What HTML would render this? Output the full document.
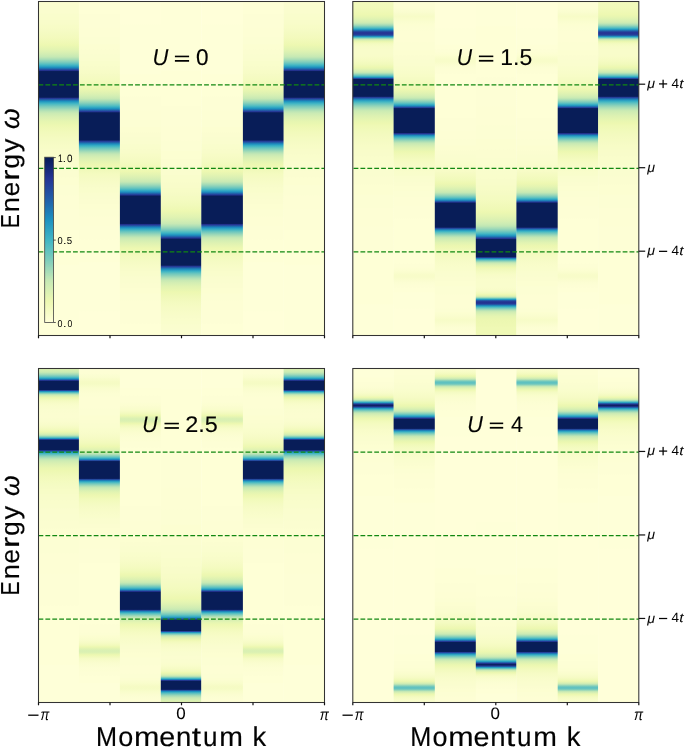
<!DOCTYPE html>
<html><head><meta charset="utf-8"><style>
html,body{margin:0;padding:0;background:#fff;}
body{width:685px;height:747px;overflow:hidden;}
svg{display:block;}
.dl{stroke:#118811;stroke-width:1.3;stroke-dasharray:4.8 2.1;fill:none;}
.sp{fill:none;stroke:#333;stroke-width:1.05;}
.tk{stroke:#111;stroke-width:1.2;}
text{font-family:"Liberation Sans",sans-serif;text-rendering:geometricPrecision;fill:#000;stroke:#000;stroke-width:0.3px;vector-effect:non-scaling-stroke;}
.tx{opacity:0.995;}
</style></head><body>
<svg width="685" height="747" viewBox="0 0 685 747">
<defs>
<linearGradient id="TL0" x1="0" y1="0" x2="0" y2="1"><stop offset="0.0004" stop-color="#fbfdd0"/><stop offset="0.0094" stop-color="#fbfdd0"/><stop offset="0.0124" stop-color="#fafdcf"/><stop offset="0.0228" stop-color="#fafdcf"/><stop offset="0.0258" stop-color="#fafdce"/><stop offset="0.0348" stop-color="#fafdce"/><stop offset="0.0378" stop-color="#f9fdcc"/><stop offset="0.0445" stop-color="#f9fdcc"/><stop offset="0.0475" stop-color="#f9fdcb"/><stop offset="0.0535" stop-color="#f9fdcb"/><stop offset="0.0565" stop-color="#f8fcca"/><stop offset="0.0610" stop-color="#f8fcca"/><stop offset="0.0640" stop-color="#f8fcc9"/><stop offset="0.0677" stop-color="#f8fcc9"/><stop offset="0.0707" stop-color="#f7fcc7"/><stop offset="0.0737" stop-color="#f7fcc7"/><stop offset="0.0767" stop-color="#f7fcc6"/><stop offset="0.0842" stop-color="#f6fbc5"/><stop offset="0.0872" stop-color="#f5fbc4"/><stop offset="0.1074" stop-color="#f3fabd"/><stop offset="0.1201" stop-color="#f0f9b7"/><stop offset="0.1306" stop-color="#edf8b1"/><stop offset="0.1441" stop-color="#e2f4b2"/><stop offset="0.1508" stop-color="#dbf1b2"/><stop offset="0.1583" stop-color="#d1edb3"/><stop offset="0.1650" stop-color="#c6e9b4"/><stop offset="0.1680" stop-color="#bde5b5"/><stop offset="0.1688" stop-color="#b9e4b5"/><stop offset="0.1703" stop-color="#b4e2b6"/><stop offset="0.1710" stop-color="#b0e0b6"/><stop offset="0.1725" stop-color="#abdeb7"/><stop offset="0.1733" stop-color="#a7dcb7"/><stop offset="0.1740" stop-color="#a5dcb7"/><stop offset="0.1755" stop-color="#9cd8b8"/><stop offset="0.1763" stop-color="#99d7b8"/><stop offset="0.1778" stop-color="#90d4b9"/><stop offset="0.1785" stop-color="#8ed3ba"/><stop offset="0.1830" stop-color="#75c9bd"/><stop offset="0.1845" stop-color="#6bc6be"/><stop offset="0.1875" stop-color="#57bec1"/><stop offset="0.1905" stop-color="#42b6c4"/><stop offset="0.1935" stop-color="#33a7c2"/><stop offset="0.1972" stop-color="#1d91c0"/><stop offset="0.2002" stop-color="#2075b3"/><stop offset="0.2055" stop-color="#243d98"/><stop offset="0.2062" stop-color="#253494"/><stop offset="0.2070" stop-color="#203089"/><stop offset="0.2085" stop-color="#12256d"/><stop offset="0.2092" stop-color="#0b1f5e"/><stop offset="0.2100" stop-color="#081d58"/><stop offset="0.2863" stop-color="#081d58"/><stop offset="0.2871" stop-color="#0d2161"/><stop offset="0.2885" stop-color="#1a2b7e"/><stop offset="0.2893" stop-color="#21308b"/><stop offset="0.2900" stop-color="#253795"/><stop offset="0.2930" stop-color="#2258a5"/><stop offset="0.2953" stop-color="#206eb0"/><stop offset="0.2968" stop-color="#1f7eb7"/><stop offset="0.2983" stop-color="#1d8dbe"/><stop offset="0.2990" stop-color="#1f93c0"/><stop offset="0.3043" stop-color="#3bb0c3"/><stop offset="0.3058" stop-color="#42b6c4"/><stop offset="0.3088" stop-color="#57bec1"/><stop offset="0.3118" stop-color="#69c5be"/><stop offset="0.3132" stop-color="#73c8bd"/><stop offset="0.3170" stop-color="#87d0ba"/><stop offset="0.3177" stop-color="#89d1ba"/><stop offset="0.3192" stop-color="#92d5b9"/><stop offset="0.3200" stop-color="#95d5b9"/><stop offset="0.3215" stop-color="#9ed9b8"/><stop offset="0.3222" stop-color="#a0dab8"/><stop offset="0.3230" stop-color="#a5dcb7"/><stop offset="0.3245" stop-color="#a9ddb7"/><stop offset="0.3252" stop-color="#aedfb6"/><stop offset="0.3267" stop-color="#b2e1b6"/><stop offset="0.3275" stop-color="#b7e3b6"/><stop offset="0.3342" stop-color="#caeab4"/><stop offset="0.3387" stop-color="#d0edb3"/><stop offset="0.3462" stop-color="#daf0b3"/><stop offset="0.3604" stop-color="#e7f6b1"/><stop offset="0.3649" stop-color="#e9f7b1"/><stop offset="0.3716" stop-color="#edf8b2"/><stop offset="0.3821" stop-color="#f0f9b7"/><stop offset="0.3911" stop-color="#f1fabb"/><stop offset="0.3978" stop-color="#f3fabd"/><stop offset="0.4098" stop-color="#f4fbc1"/><stop offset="0.4195" stop-color="#f5fbc4"/><stop offset="0.4263" stop-color="#f6fbc5"/><stop offset="0.4293" stop-color="#f7fcc6"/><stop offset="0.4323" stop-color="#f7fcc6"/><stop offset="0.4353" stop-color="#f7fcc7"/><stop offset="0.4397" stop-color="#f7fcc7"/><stop offset="0.4427" stop-color="#f8fcc9"/><stop offset="0.4472" stop-color="#f8fcc9"/><stop offset="0.4502" stop-color="#f8fcca"/><stop offset="0.4555" stop-color="#f8fcca"/><stop offset="0.4585" stop-color="#f9fdcb"/><stop offset="0.4659" stop-color="#f9fdcb"/><stop offset="0.4689" stop-color="#f9fdcc"/><stop offset="0.4772" stop-color="#f9fdcc"/><stop offset="0.4802" stop-color="#fafdce"/><stop offset="0.4899" stop-color="#fafdce"/><stop offset="0.4929" stop-color="#fafdcf"/><stop offset="0.5056" stop-color="#fafdcf"/><stop offset="0.5086" stop-color="#fbfdd0"/><stop offset="0.5251" stop-color="#fbfdd0"/><stop offset="0.5281" stop-color="#fcfed1"/><stop offset="0.5483" stop-color="#fcfed1"/><stop offset="0.5513" stop-color="#fcfed3"/><stop offset="0.5790" stop-color="#fcfed3"/><stop offset="0.5820" stop-color="#fdfed4"/><stop offset="0.6209" stop-color="#fdfed4"/><stop offset="0.6239" stop-color="#fdfed5"/><stop offset="0.6823" stop-color="#fdfed5"/><stop offset="0.6853" stop-color="#feffd6"/><stop offset="0.7863" stop-color="#feffd6"/><stop offset="0.7893" stop-color="#feffd8"/><stop offset="0.9996" stop-color="#feffd8"/></linearGradient>
<linearGradient id="TL1" x1="0" y1="0" x2="0" y2="1"><stop offset="0.0004" stop-color="#feffd6"/><stop offset="0.0356" stop-color="#feffd6"/><stop offset="0.0385" stop-color="#fdfed5"/><stop offset="0.0767" stop-color="#fdfed5"/><stop offset="0.0797" stop-color="#fdfed4"/><stop offset="0.1052" stop-color="#fdfed4"/><stop offset="0.1082" stop-color="#fcfed3"/><stop offset="0.1261" stop-color="#fcfed3"/><stop offset="0.1291" stop-color="#fcfed1"/><stop offset="0.1426" stop-color="#fcfed1"/><stop offset="0.1456" stop-color="#fbfdd0"/><stop offset="0.1561" stop-color="#fbfdd0"/><stop offset="0.1591" stop-color="#fafdcf"/><stop offset="0.1673" stop-color="#fafdcf"/><stop offset="0.1703" stop-color="#fafdce"/><stop offset="0.1770" stop-color="#fafdce"/><stop offset="0.1800" stop-color="#f9fdcc"/><stop offset="0.1853" stop-color="#f9fdcc"/><stop offset="0.1882" stop-color="#f9fdcb"/><stop offset="0.1920" stop-color="#f9fdcb"/><stop offset="0.1950" stop-color="#f8fcca"/><stop offset="0.1987" stop-color="#f8fcca"/><stop offset="0.2017" stop-color="#f8fcc9"/><stop offset="0.2047" stop-color="#f8fcc9"/><stop offset="0.2077" stop-color="#f7fcc7"/><stop offset="0.2144" stop-color="#f7fcc6"/><stop offset="0.2174" stop-color="#f6fbc5"/><stop offset="0.2332" stop-color="#f4fbc0"/><stop offset="0.2406" stop-color="#f2fabc"/><stop offset="0.2541" stop-color="#eff9b5"/><stop offset="0.2571" stop-color="#edf8b2"/><stop offset="0.2653" stop-color="#e8f6b1"/><stop offset="0.2743" stop-color="#dff2b2"/><stop offset="0.2818" stop-color="#d5efb3"/><stop offset="0.2900" stop-color="#c8e9b4"/><stop offset="0.2923" stop-color="#c0e6b5"/><stop offset="0.2930" stop-color="#bde5b5"/><stop offset="0.2938" stop-color="#b9e4b5"/><stop offset="0.2945" stop-color="#b7e3b6"/><stop offset="0.2953" stop-color="#b2e1b6"/><stop offset="0.2968" stop-color="#aedfb6"/><stop offset="0.2983" stop-color="#a5dcb7"/><stop offset="0.2990" stop-color="#a2dbb8"/><stop offset="0.3005" stop-color="#99d7b8"/><stop offset="0.3013" stop-color="#97d6b9"/><stop offset="0.3058" stop-color="#7cccbb"/><stop offset="0.3073" stop-color="#73c8bd"/><stop offset="0.3118" stop-color="#55bec1"/><stop offset="0.3147" stop-color="#3fb4c4"/><stop offset="0.3200" stop-color="#2397c1"/><stop offset="0.3207" stop-color="#1f93c0"/><stop offset="0.3222" stop-color="#1e85ba"/><stop offset="0.3237" stop-color="#2075b3"/><stop offset="0.3245" stop-color="#206eb0"/><stop offset="0.3260" stop-color="#225da8"/><stop offset="0.3290" stop-color="#243f99"/><stop offset="0.3297" stop-color="#253595"/><stop offset="0.3305" stop-color="#21308b"/><stop offset="0.3327" stop-color="#0d2161"/><stop offset="0.3335" stop-color="#081d58"/><stop offset="0.4143" stop-color="#081d58"/><stop offset="0.4150" stop-color="#0b1f5e"/><stop offset="0.4165" stop-color="#182a7a"/><stop offset="0.4180" stop-color="#253494"/><stop offset="0.4203" stop-color="#234da0"/><stop offset="0.4225" stop-color="#2163aa"/><stop offset="0.4233" stop-color="#216daf"/><stop offset="0.4248" stop-color="#1f7bb6"/><stop offset="0.4270" stop-color="#1d91c0"/><stop offset="0.4315" stop-color="#37acc3"/><stop offset="0.4338" stop-color="#42b6c4"/><stop offset="0.4345" stop-color="#4ab9c3"/><stop offset="0.4360" stop-color="#53bdc1"/><stop offset="0.4375" stop-color="#5fc1c0"/><stop offset="0.4412" stop-color="#76cabc"/><stop offset="0.4480" stop-color="#9ed9b8"/><stop offset="0.4487" stop-color="#a0dab8"/><stop offset="0.4502" stop-color="#a9ddb7"/><stop offset="0.4510" stop-color="#abdeb7"/><stop offset="0.4517" stop-color="#b0e0b6"/><stop offset="0.4525" stop-color="#b2e1b6"/><stop offset="0.4532" stop-color="#b7e3b6"/><stop offset="0.4547" stop-color="#bbe4b5"/><stop offset="0.4555" stop-color="#c0e6b5"/><stop offset="0.4592" stop-color="#caeab4"/><stop offset="0.4682" stop-color="#d9f0b3"/><stop offset="0.4802" stop-color="#e6f5b2"/><stop offset="0.4891" stop-color="#edf8b1"/><stop offset="0.5004" stop-color="#f0f9b8"/><stop offset="0.5079" stop-color="#f2fabc"/><stop offset="0.5168" stop-color="#f4fbc0"/><stop offset="0.5236" stop-color="#f5fbc2"/><stop offset="0.5318" stop-color="#f6fbc5"/><stop offset="0.5415" stop-color="#f7fcc7"/><stop offset="0.5483" stop-color="#f8fcc9"/><stop offset="0.5513" stop-color="#f8fcca"/><stop offset="0.5550" stop-color="#f8fcca"/><stop offset="0.5580" stop-color="#f9fdcb"/><stop offset="0.5618" stop-color="#f9fdcb"/><stop offset="0.5647" stop-color="#f9fdcc"/><stop offset="0.5707" stop-color="#f9fdcc"/><stop offset="0.5737" stop-color="#fafdce"/><stop offset="0.5797" stop-color="#fafdce"/><stop offset="0.5827" stop-color="#fafdcf"/><stop offset="0.5909" stop-color="#fafdcf"/><stop offset="0.5939" stop-color="#fbfdd0"/><stop offset="0.6044" stop-color="#fbfdd0"/><stop offset="0.6074" stop-color="#fcfed1"/><stop offset="0.6209" stop-color="#fcfed1"/><stop offset="0.6239" stop-color="#fcfed3"/><stop offset="0.6426" stop-color="#fcfed3"/><stop offset="0.6456" stop-color="#fdfed4"/><stop offset="0.6703" stop-color="#fdfed4"/><stop offset="0.6733" stop-color="#fdfed5"/><stop offset="0.7115" stop-color="#fdfed5"/><stop offset="0.7144" stop-color="#feffd6"/><stop offset="0.7788" stop-color="#feffd6"/><stop offset="0.7818" stop-color="#feffd8"/><stop offset="0.9263" stop-color="#feffd8"/><stop offset="0.9293" stop-color="#ffffd9"/><stop offset="0.9996" stop-color="#ffffd9"/></linearGradient>
<linearGradient id="TL2" x1="0" y1="0" x2="0" y2="1"><stop offset="0.0004" stop-color="#ffffd9"/><stop offset="0.0677" stop-color="#ffffd9"/><stop offset="0.0707" stop-color="#feffd8"/><stop offset="0.2159" stop-color="#feffd8"/><stop offset="0.2189" stop-color="#feffd6"/><stop offset="0.2833" stop-color="#feffd6"/><stop offset="0.2863" stop-color="#fdfed5"/><stop offset="0.3245" stop-color="#fdfed5"/><stop offset="0.3275" stop-color="#fdfed4"/><stop offset="0.3529" stop-color="#fdfed4"/><stop offset="0.3559" stop-color="#fcfed3"/><stop offset="0.3746" stop-color="#fcfed3"/><stop offset="0.3776" stop-color="#fcfed1"/><stop offset="0.3911" stop-color="#fcfed1"/><stop offset="0.3941" stop-color="#fbfdd0"/><stop offset="0.4046" stop-color="#fbfdd0"/><stop offset="0.4076" stop-color="#fafdcf"/><stop offset="0.4158" stop-color="#fafdcf"/><stop offset="0.4188" stop-color="#fafdce"/><stop offset="0.4255" stop-color="#fafdce"/><stop offset="0.4285" stop-color="#f9fdcc"/><stop offset="0.4338" stop-color="#f9fdcc"/><stop offset="0.4368" stop-color="#f9fdcb"/><stop offset="0.4412" stop-color="#f9fdcb"/><stop offset="0.4442" stop-color="#f8fcca"/><stop offset="0.4472" stop-color="#f8fcca"/><stop offset="0.4502" stop-color="#f8fcc9"/><stop offset="0.4532" stop-color="#f8fcc9"/><stop offset="0.4562" stop-color="#f7fcc7"/><stop offset="0.4629" stop-color="#f7fcc6"/><stop offset="0.4659" stop-color="#f6fbc5"/><stop offset="0.4749" stop-color="#f5fbc2"/><stop offset="0.4779" stop-color="#f4fbc1"/><stop offset="0.4899" stop-color="#f2fabc"/><stop offset="0.5011" stop-color="#eff9b6"/><stop offset="0.5086" stop-color="#edf8b1"/><stop offset="0.5213" stop-color="#e1f3b2"/><stop offset="0.5273" stop-color="#daf0b3"/><stop offset="0.5363" stop-color="#cdebb4"/><stop offset="0.5393" stop-color="#c8e9b4"/><stop offset="0.5415" stop-color="#c0e6b5"/><stop offset="0.5423" stop-color="#bde5b5"/><stop offset="0.5430" stop-color="#b9e4b5"/><stop offset="0.5438" stop-color="#b7e3b6"/><stop offset="0.5445" stop-color="#b2e1b6"/><stop offset="0.5460" stop-color="#aedfb6"/><stop offset="0.5475" stop-color="#a5dcb7"/><stop offset="0.5483" stop-color="#a2dbb8"/><stop offset="0.5498" stop-color="#99d7b8"/><stop offset="0.5505" stop-color="#97d6b9"/><stop offset="0.5558" stop-color="#78cbbc"/><stop offset="0.5573" stop-color="#6fc7bd"/><stop offset="0.5603" stop-color="#5bc0c0"/><stop offset="0.5640" stop-color="#3fb4c4"/><stop offset="0.5677" stop-color="#2ca1c2"/><stop offset="0.5700" stop-color="#1f93c0"/><stop offset="0.5707" stop-color="#1d8dbe"/><stop offset="0.5745" stop-color="#2166ac"/><stop offset="0.5782" stop-color="#24409a"/><stop offset="0.5790" stop-color="#253795"/><stop offset="0.5797" stop-color="#21318d"/><stop offset="0.5812" stop-color="#152772"/><stop offset="0.5820" stop-color="#0d2163"/><stop offset="0.5827" stop-color="#081d58"/><stop offset="0.6643" stop-color="#081d58"/><stop offset="0.6650" stop-color="#0b1f5e"/><stop offset="0.6665" stop-color="#182a7a"/><stop offset="0.6680" stop-color="#253494"/><stop offset="0.6755" stop-color="#1e83ba"/><stop offset="0.6770" stop-color="#1d90c0"/><stop offset="0.6793" stop-color="#2b9fc2"/><stop offset="0.6838" stop-color="#42b6c4"/><stop offset="0.6868" stop-color="#59bfc0"/><stop offset="0.6882" stop-color="#63c3bf"/><stop offset="0.6897" stop-color="#6dc6be"/><stop offset="0.6972" stop-color="#99d7b8"/><stop offset="0.6980" stop-color="#9cd8b8"/><stop offset="0.6995" stop-color="#a5dcb7"/><stop offset="0.7002" stop-color="#a7dcb7"/><stop offset="0.7010" stop-color="#abdeb7"/><stop offset="0.7017" stop-color="#aedfb6"/><stop offset="0.7025" stop-color="#b2e1b6"/><stop offset="0.7032" stop-color="#b4e2b6"/><stop offset="0.7040" stop-color="#b9e4b5"/><stop offset="0.7055" stop-color="#bde5b5"/><stop offset="0.7062" stop-color="#c2e7b4"/><stop offset="0.7107" stop-color="#cdebb4"/><stop offset="0.7167" stop-color="#d6efb3"/><stop offset="0.7257" stop-color="#e1f3b2"/><stop offset="0.7391" stop-color="#edf8b1"/><stop offset="0.7601" stop-color="#f3fabd"/><stop offset="0.7706" stop-color="#f4fbc1"/><stop offset="0.7826" stop-color="#f6fbc5"/><stop offset="0.7923" stop-color="#f7fcc7"/><stop offset="0.7990" stop-color="#f8fcc9"/><stop offset="0.8020" stop-color="#f8fcca"/><stop offset="0.8058" stop-color="#f8fcca"/><stop offset="0.8088" stop-color="#f9fdcb"/><stop offset="0.8125" stop-color="#f9fdcb"/><stop offset="0.8155" stop-color="#f9fdcc"/><stop offset="0.8215" stop-color="#f9fdcc"/><stop offset="0.8245" stop-color="#fafdce"/><stop offset="0.8305" stop-color="#fafdce"/><stop offset="0.8335" stop-color="#fafdcf"/><stop offset="0.8424" stop-color="#fafdcf"/><stop offset="0.8454" stop-color="#fbfdd0"/><stop offset="0.8559" stop-color="#fbfdd0"/><stop offset="0.8589" stop-color="#fcfed1"/><stop offset="0.8724" stop-color="#fcfed1"/><stop offset="0.8754" stop-color="#fcfed3"/><stop offset="0.8933" stop-color="#fcfed3"/><stop offset="0.8963" stop-color="#fdfed4"/><stop offset="0.9218" stop-color="#fdfed4"/><stop offset="0.9248" stop-color="#fdfed5"/><stop offset="0.9629" stop-color="#fdfed5"/><stop offset="0.9659" stop-color="#feffd6"/><stop offset="0.9996" stop-color="#feffd6"/></linearGradient>
<linearGradient id="TL3" x1="0" y1="0" x2="0" y2="1"><stop offset="0.0004" stop-color="#feffd8"/><stop offset="0.2062" stop-color="#feffd8"/><stop offset="0.2092" stop-color="#feffd6"/><stop offset="0.3110" stop-color="#feffd6"/><stop offset="0.3140" stop-color="#fdfed5"/><stop offset="0.3731" stop-color="#fdfed5"/><stop offset="0.3761" stop-color="#fdfed4"/><stop offset="0.4158" stop-color="#fdfed4"/><stop offset="0.4188" stop-color="#fcfed3"/><stop offset="0.4465" stop-color="#fcfed3"/><stop offset="0.4495" stop-color="#fcfed1"/><stop offset="0.4704" stop-color="#fcfed1"/><stop offset="0.4734" stop-color="#fbfdd0"/><stop offset="0.4891" stop-color="#fbfdd0"/><stop offset="0.4921" stop-color="#fafdcf"/><stop offset="0.5049" stop-color="#fafdcf"/><stop offset="0.5079" stop-color="#fafdce"/><stop offset="0.5183" stop-color="#fafdce"/><stop offset="0.5213" stop-color="#f9fdcc"/><stop offset="0.5303" stop-color="#f9fdcc"/><stop offset="0.5333" stop-color="#f9fdcb"/><stop offset="0.5400" stop-color="#f9fdcb"/><stop offset="0.5430" stop-color="#f8fcca"/><stop offset="0.5490" stop-color="#f8fcca"/><stop offset="0.5520" stop-color="#f8fcc9"/><stop offset="0.5565" stop-color="#f8fcc9"/><stop offset="0.5595" stop-color="#f7fcc7"/><stop offset="0.5632" stop-color="#f7fcc7"/><stop offset="0.5662" stop-color="#f7fcc6"/><stop offset="0.5700" stop-color="#f7fcc6"/><stop offset="0.5730" stop-color="#f6fbc5"/><stop offset="0.5805" stop-color="#f5fbc4"/><stop offset="0.5835" stop-color="#f5fbc2"/><stop offset="0.5902" stop-color="#f4fbc1"/><stop offset="0.5932" stop-color="#f4fbc0"/><stop offset="0.6082" stop-color="#f1fabb"/><stop offset="0.6209" stop-color="#eff9b5"/><stop offset="0.6276" stop-color="#edf8b1"/><stop offset="0.6456" stop-color="#e0f3b2"/><stop offset="0.6561" stop-color="#d4eeb3"/><stop offset="0.6650" stop-color="#c8e9b4"/><stop offset="0.6673" stop-color="#c0e6b5"/><stop offset="0.6703" stop-color="#b7e3b6"/><stop offset="0.6710" stop-color="#b2e1b6"/><stop offset="0.6733" stop-color="#abdeb7"/><stop offset="0.6740" stop-color="#a7dcb7"/><stop offset="0.6748" stop-color="#a5dcb7"/><stop offset="0.6755" stop-color="#a0dab8"/><stop offset="0.6763" stop-color="#9ed9b8"/><stop offset="0.6770" stop-color="#99d7b8"/><stop offset="0.6778" stop-color="#97d6b9"/><stop offset="0.6793" stop-color="#8ed3ba"/><stop offset="0.6800" stop-color="#8cd2ba"/><stop offset="0.6845" stop-color="#73c8bd"/><stop offset="0.6868" stop-color="#67c4be"/><stop offset="0.6882" stop-color="#5dc0c0"/><stop offset="0.6897" stop-color="#53bdc1"/><stop offset="0.6927" stop-color="#3fb4c4"/><stop offset="0.6965" stop-color="#2da2c2"/><stop offset="0.6987" stop-color="#2094c0"/><stop offset="0.6995" stop-color="#1d8ebf"/><stop offset="0.7010" stop-color="#1f82b9"/><stop offset="0.7040" stop-color="#2163aa"/><stop offset="0.7047" stop-color="#225aa6"/><stop offset="0.7077" stop-color="#243c98"/><stop offset="0.7085" stop-color="#243392"/><stop offset="0.7107" stop-color="#11246b"/><stop offset="0.7115" stop-color="#0a1e5c"/><stop offset="0.7122" stop-color="#081d58"/><stop offset="0.7893" stop-color="#081d58"/><stop offset="0.7900" stop-color="#0d2161"/><stop offset="0.7915" stop-color="#1a2b7e"/><stop offset="0.7923" stop-color="#21308b"/><stop offset="0.7930" stop-color="#253795"/><stop offset="0.7960" stop-color="#2356a4"/><stop offset="0.7968" stop-color="#225da8"/><stop offset="0.7983" stop-color="#206eb0"/><stop offset="0.7998" stop-color="#1f7db6"/><stop offset="0.8013" stop-color="#1e8bbd"/><stop offset="0.8020" stop-color="#1d91c0"/><stop offset="0.8058" stop-color="#33a7c2"/><stop offset="0.8088" stop-color="#42b6c4"/><stop offset="0.8103" stop-color="#4ebbc2"/><stop offset="0.8118" stop-color="#57bec1"/><stop offset="0.8147" stop-color="#6bc6be"/><stop offset="0.8162" stop-color="#73c8bd"/><stop offset="0.8177" stop-color="#7cccbb"/><stop offset="0.8192" stop-color="#85cfba"/><stop offset="0.8200" stop-color="#87d0ba"/><stop offset="0.8222" stop-color="#95d5b9"/><stop offset="0.8230" stop-color="#97d6b9"/><stop offset="0.8245" stop-color="#a0dab8"/><stop offset="0.8252" stop-color="#a2dbb8"/><stop offset="0.8260" stop-color="#a7dcb7"/><stop offset="0.8267" stop-color="#a9ddb7"/><stop offset="0.8275" stop-color="#aedfb6"/><stop offset="0.8290" stop-color="#b2e1b6"/><stop offset="0.8297" stop-color="#b7e3b6"/><stop offset="0.8320" stop-color="#bde5b5"/><stop offset="0.8327" stop-color="#c2e7b4"/><stop offset="0.8357" stop-color="#c9eab4"/><stop offset="0.8424" stop-color="#d4eeb3"/><stop offset="0.8529" stop-color="#e0f3b2"/><stop offset="0.8694" stop-color="#edf8b1"/><stop offset="0.8829" stop-color="#f0f9b8"/><stop offset="0.8978" stop-color="#f3fabf"/><stop offset="0.9098" stop-color="#f5fbc2"/><stop offset="0.9195" stop-color="#f6fbc5"/><stop offset="0.9300" stop-color="#f7fcc7"/><stop offset="0.9390" stop-color="#f8fcc9"/><stop offset="0.9420" stop-color="#f8fcca"/><stop offset="0.9465" stop-color="#f8fcca"/><stop offset="0.9495" stop-color="#f9fdcb"/><stop offset="0.9555" stop-color="#f9fdcb"/><stop offset="0.9585" stop-color="#f9fdcc"/><stop offset="0.9652" stop-color="#f9fdcc"/><stop offset="0.9682" stop-color="#fafdce"/><stop offset="0.9772" stop-color="#fafdce"/><stop offset="0.9802" stop-color="#fafdcf"/><stop offset="0.9906" stop-color="#fafdcf"/><stop offset="0.9936" stop-color="#fbfdd0"/><stop offset="0.9996" stop-color="#fbfdd0"/></linearGradient>
<linearGradient id="TR0" x1="0" y1="0" x2="0" y2="1"><stop offset="0.0004" stop-color="#f3fabd"/><stop offset="0.0034" stop-color="#f2fabc"/><stop offset="0.0079" stop-color="#f2fabc"/><stop offset="0.0109" stop-color="#f1fabb"/><stop offset="0.0138" stop-color="#f1fabb"/><stop offset="0.0168" stop-color="#f1faba"/><stop offset="0.0236" stop-color="#f0f9b8"/><stop offset="0.0266" stop-color="#f0f9b7"/><stop offset="0.0393" stop-color="#edf8b1"/><stop offset="0.0453" stop-color="#e8f6b1"/><stop offset="0.0498" stop-color="#e3f4b2"/><stop offset="0.0588" stop-color="#d6efb3"/><stop offset="0.0625" stop-color="#ceecb3"/><stop offset="0.0647" stop-color="#c8e9b4"/><stop offset="0.0685" stop-color="#b2e1b6"/><stop offset="0.0692" stop-color="#abdeb7"/><stop offset="0.0700" stop-color="#a7dcb7"/><stop offset="0.0707" stop-color="#a0dab8"/><stop offset="0.0715" stop-color="#9cd8b8"/><stop offset="0.0730" stop-color="#8ed3ba"/><stop offset="0.0737" stop-color="#85cfba"/><stop offset="0.0767" stop-color="#69c5be"/><stop offset="0.0797" stop-color="#46b8c3"/><stop offset="0.0805" stop-color="#3eb3c4"/><stop offset="0.0842" stop-color="#1f93c0"/><stop offset="0.0857" stop-color="#1f80b8"/><stop offset="0.0872" stop-color="#216bae"/><stop offset="0.0894" stop-color="#2351a2"/><stop offset="0.0909" stop-color="#24439b"/><stop offset="0.0924" stop-color="#253896"/><stop offset="0.0939" stop-color="#253494"/><stop offset="0.0969" stop-color="#253595"/><stop offset="0.0992" stop-color="#243f99"/><stop offset="0.0999" stop-color="#24449c"/><stop offset="0.1022" stop-color="#225ea8"/><stop offset="0.1037" stop-color="#1f7bb6"/><stop offset="0.1044" stop-color="#1e8bbd"/><stop offset="0.1052" stop-color="#2498c1"/><stop offset="0.1067" stop-color="#3bb0c3"/><stop offset="0.1074" stop-color="#4ab9c3"/><stop offset="0.1089" stop-color="#6fc7bd"/><stop offset="0.1097" stop-color="#7ecdbb"/><stop offset="0.1104" stop-color="#90d4b9"/><stop offset="0.1112" stop-color="#a0dab8"/><stop offset="0.1134" stop-color="#c8e9b4"/><stop offset="0.1164" stop-color="#dcf1b2"/><stop offset="0.1194" stop-color="#e9f7b1"/><stop offset="0.1209" stop-color="#edf8b2"/><stop offset="0.1239" stop-color="#f1fabb"/><stop offset="0.1276" stop-color="#f4fbc1"/><stop offset="0.1351" stop-color="#f7fcc7"/><stop offset="0.1448" stop-color="#f8fcca"/><stop offset="0.1576" stop-color="#f8fcca"/><stop offset="0.1606" stop-color="#f8fcc9"/><stop offset="0.1635" stop-color="#f8fcc9"/><stop offset="0.1665" stop-color="#f7fcc7"/><stop offset="0.1778" stop-color="#f5fbc2"/><stop offset="0.1882" stop-color="#f1fabb"/><stop offset="0.1965" stop-color="#edf8b1"/><stop offset="0.2010" stop-color="#e6f5b2"/><stop offset="0.2062" stop-color="#daf0b3"/><stop offset="0.2115" stop-color="#caeab4"/><stop offset="0.2129" stop-color="#c2e7b4"/><stop offset="0.2144" stop-color="#b4e2b6"/><stop offset="0.2152" stop-color="#b0e0b6"/><stop offset="0.2159" stop-color="#a7dcb7"/><stop offset="0.2174" stop-color="#99d7b8"/><stop offset="0.2204" stop-color="#75c9bd"/><stop offset="0.2212" stop-color="#6dc6be"/><stop offset="0.2242" stop-color="#40b5c4"/><stop offset="0.2264" stop-color="#289cc1"/><stop offset="0.2272" stop-color="#1d91c0"/><stop offset="0.2287" stop-color="#2073b2"/><stop offset="0.2309" stop-color="#24409a"/><stop offset="0.2317" stop-color="#21308b"/><stop offset="0.2324" stop-color="#12256d"/><stop offset="0.2332" stop-color="#081d58"/><stop offset="0.2833" stop-color="#081d58"/><stop offset="0.2841" stop-color="#0a1e5c"/><stop offset="0.2856" stop-color="#1b2c80"/><stop offset="0.2863" stop-color="#22328f"/><stop offset="0.2871" stop-color="#253b97"/><stop offset="0.2885" stop-color="#234fa1"/><stop offset="0.2900" stop-color="#2260a9"/><stop offset="0.2930" stop-color="#1e83ba"/><stop offset="0.2945" stop-color="#1f93c0"/><stop offset="0.2975" stop-color="#32a6c2"/><stop offset="0.3005" stop-color="#42b6c4"/><stop offset="0.3043" stop-color="#5fc1c0"/><stop offset="0.3073" stop-color="#71c8bd"/><stop offset="0.3088" stop-color="#7acbbc"/><stop offset="0.3132" stop-color="#95d5b9"/><stop offset="0.3140" stop-color="#97d6b9"/><stop offset="0.3147" stop-color="#9cd8b8"/><stop offset="0.3155" stop-color="#9ed9b8"/><stop offset="0.3170" stop-color="#a7dcb7"/><stop offset="0.3185" stop-color="#abdeb7"/><stop offset="0.3192" stop-color="#b0e0b6"/><stop offset="0.3207" stop-color="#b4e2b6"/><stop offset="0.3215" stop-color="#b9e4b5"/><stop offset="0.3245" stop-color="#c2e7b4"/><stop offset="0.3252" stop-color="#c6e9b4"/><stop offset="0.3297" stop-color="#ceecb3"/><stop offset="0.3417" stop-color="#dcf1b2"/><stop offset="0.3582" stop-color="#e9f7b1"/><stop offset="0.3649" stop-color="#edf8b1"/><stop offset="0.3716" stop-color="#eff9b5"/><stop offset="0.3866" stop-color="#f1fabb"/><stop offset="0.3986" stop-color="#f3fabf"/><stop offset="0.4128" stop-color="#f5fbc2"/><stop offset="0.4203" stop-color="#f5fbc4"/><stop offset="0.4233" stop-color="#f6fbc5"/><stop offset="0.4263" stop-color="#f6fbc5"/><stop offset="0.4293" stop-color="#f7fcc6"/><stop offset="0.4338" stop-color="#f7fcc6"/><stop offset="0.4368" stop-color="#f7fcc7"/><stop offset="0.4420" stop-color="#f7fcc7"/><stop offset="0.4450" stop-color="#f8fcc9"/><stop offset="0.4510" stop-color="#f8fcc9"/><stop offset="0.4540" stop-color="#f8fcca"/><stop offset="0.4615" stop-color="#f8fcca"/><stop offset="0.4644" stop-color="#f9fdcb"/><stop offset="0.4727" stop-color="#f9fdcb"/><stop offset="0.4757" stop-color="#f9fdcc"/><stop offset="0.4869" stop-color="#f9fdcc"/><stop offset="0.4899" stop-color="#fafdce"/><stop offset="0.5026" stop-color="#fafdce"/><stop offset="0.5056" stop-color="#fafdcf"/><stop offset="0.5221" stop-color="#fafdcf"/><stop offset="0.5251" stop-color="#fbfdd0"/><stop offset="0.5460" stop-color="#fbfdd0"/><stop offset="0.5490" stop-color="#fcfed1"/><stop offset="0.5767" stop-color="#fcfed1"/><stop offset="0.5797" stop-color="#fcfed3"/><stop offset="0.6164" stop-color="#fcfed3"/><stop offset="0.6194" stop-color="#fdfed4"/><stop offset="0.6718" stop-color="#fdfed4"/><stop offset="0.6748" stop-color="#fdfed5"/><stop offset="0.7564" stop-color="#fdfed5"/><stop offset="0.7594" stop-color="#feffd6"/><stop offset="0.9053" stop-color="#feffd6"/><stop offset="0.9083" stop-color="#feffd8"/><stop offset="0.9996" stop-color="#feffd8"/></linearGradient>
<linearGradient id="TR1" x1="0" y1="0" x2="0" y2="1"><stop offset="0.0004" stop-color="#fdfed5"/><stop offset="0.0116" stop-color="#fdfed5"/><stop offset="0.0146" stop-color="#fdfed4"/><stop offset="0.0183" stop-color="#fdfed4"/><stop offset="0.0213" stop-color="#fcfed3"/><stop offset="0.0318" stop-color="#fafdcf"/><stop offset="0.0393" stop-color="#f8fcca"/><stop offset="0.0453" stop-color="#f7fcc7"/><stop offset="0.0483" stop-color="#f8fcc9"/><stop offset="0.0535" stop-color="#f9fdcb"/><stop offset="0.0603" stop-color="#fafdcf"/><stop offset="0.0685" stop-color="#fcfed1"/><stop offset="0.0790" stop-color="#fcfed3"/><stop offset="0.0894" stop-color="#fdfed4"/><stop offset="0.1201" stop-color="#fdfed4"/><stop offset="0.1231" stop-color="#fcfed3"/><stop offset="0.1441" stop-color="#fcfed3"/><stop offset="0.1471" stop-color="#fcfed1"/><stop offset="0.1598" stop-color="#fcfed1"/><stop offset="0.1628" stop-color="#fbfdd0"/><stop offset="0.1725" stop-color="#fbfdd0"/><stop offset="0.1755" stop-color="#fafdcf"/><stop offset="0.1830" stop-color="#fafdcf"/><stop offset="0.1860" stop-color="#fafdce"/><stop offset="0.1920" stop-color="#fafdce"/><stop offset="0.1950" stop-color="#f9fdcc"/><stop offset="0.1987" stop-color="#f9fdcc"/><stop offset="0.2017" stop-color="#f9fdcb"/><stop offset="0.2055" stop-color="#f9fdcb"/><stop offset="0.2085" stop-color="#f8fcca"/><stop offset="0.2115" stop-color="#f8fcca"/><stop offset="0.2144" stop-color="#f8fcc9"/><stop offset="0.2249" stop-color="#f7fcc6"/><stop offset="0.2279" stop-color="#f6fbc5"/><stop offset="0.2406" stop-color="#f4fbc0"/><stop offset="0.2519" stop-color="#f1faba"/><stop offset="0.2586" stop-color="#eff9b5"/><stop offset="0.2646" stop-color="#ecf7b1"/><stop offset="0.2743" stop-color="#e1f3b2"/><stop offset="0.2818" stop-color="#d6efb3"/><stop offset="0.2871" stop-color="#cbebb4"/><stop offset="0.2893" stop-color="#c6e9b4"/><stop offset="0.2908" stop-color="#bde5b5"/><stop offset="0.2915" stop-color="#bbe4b5"/><stop offset="0.2975" stop-color="#97d6b9"/><stop offset="0.2983" stop-color="#90d4b9"/><stop offset="0.2990" stop-color="#8cd2ba"/><stop offset="0.3005" stop-color="#7ecdbb"/><stop offset="0.3020" stop-color="#75c9bd"/><stop offset="0.3035" stop-color="#67c4be"/><stop offset="0.3065" stop-color="#4cbac2"/><stop offset="0.3073" stop-color="#42b6c4"/><stop offset="0.3095" stop-color="#33a7c2"/><stop offset="0.3118" stop-color="#2195c0"/><stop offset="0.3125" stop-color="#1d8dbe"/><stop offset="0.3140" stop-color="#1f78b4"/><stop offset="0.3162" stop-color="#2355a4"/><stop offset="0.3177" stop-color="#243f99"/><stop offset="0.3185" stop-color="#233390"/><stop offset="0.3200" stop-color="#102369"/><stop offset="0.3207" stop-color="#081d58"/><stop offset="0.3926" stop-color="#081d58"/><stop offset="0.3933" stop-color="#0a1e5c"/><stop offset="0.3941" stop-color="#152772"/><stop offset="0.3948" stop-color="#1e2e85"/><stop offset="0.3956" stop-color="#253795"/><stop offset="0.3963" stop-color="#24449c"/><stop offset="0.3986" stop-color="#2165ab"/><stop offset="0.4001" stop-color="#1f7db6"/><stop offset="0.4016" stop-color="#1d90c0"/><stop offset="0.4038" stop-color="#2fa4c2"/><stop offset="0.4061" stop-color="#3fb4c4"/><stop offset="0.4091" stop-color="#5dc0c0"/><stop offset="0.4121" stop-color="#76cabc"/><stop offset="0.4135" stop-color="#80cebb"/><stop offset="0.4150" stop-color="#8ed3ba"/><stop offset="0.4158" stop-color="#92d5b9"/><stop offset="0.4165" stop-color="#99d7b8"/><stop offset="0.4218" stop-color="#b9e4b5"/><stop offset="0.4225" stop-color="#bbe4b5"/><stop offset="0.4240" stop-color="#c4e8b4"/><stop offset="0.4263" stop-color="#caeab4"/><stop offset="0.4323" stop-color="#d6efb3"/><stop offset="0.4390" stop-color="#e1f3b2"/><stop offset="0.4502" stop-color="#edf8b1"/><stop offset="0.4585" stop-color="#f0f9b7"/><stop offset="0.4742" stop-color="#f4fbc0"/><stop offset="0.4869" stop-color="#f6fbc5"/><stop offset="0.5011" stop-color="#f8fcc9"/><stop offset="0.5116" stop-color="#f9fdcb"/><stop offset="0.5206" stop-color="#f9fdcc"/><stop offset="0.5236" stop-color="#fafdce"/><stop offset="0.5288" stop-color="#fafdce"/><stop offset="0.5318" stop-color="#fafdcf"/><stop offset="0.5393" stop-color="#fafdcf"/><stop offset="0.5423" stop-color="#fbfdd0"/><stop offset="0.5505" stop-color="#fbfdd0"/><stop offset="0.5535" stop-color="#fcfed1"/><stop offset="0.5655" stop-color="#fcfed1"/><stop offset="0.5685" stop-color="#fcfed3"/><stop offset="0.5842" stop-color="#fcfed3"/><stop offset="0.5872" stop-color="#fdfed4"/><stop offset="0.6104" stop-color="#fdfed4"/><stop offset="0.6134" stop-color="#fdfed5"/><stop offset="0.6486" stop-color="#fdfed5"/><stop offset="0.6516" stop-color="#feffd6"/><stop offset="0.7833" stop-color="#feffd6"/><stop offset="0.7863" stop-color="#fdfed5"/><stop offset="0.7930" stop-color="#fdfed5"/><stop offset="0.7960" stop-color="#fdfed4"/><stop offset="0.8050" stop-color="#fcfed1"/><stop offset="0.8185" stop-color="#f8fcc9"/><stop offset="0.8252" stop-color="#f8fcc9"/><stop offset="0.8365" stop-color="#fbfdd0"/><stop offset="0.8424" stop-color="#fcfed3"/><stop offset="0.8522" stop-color="#fdfed5"/><stop offset="0.8552" stop-color="#fdfed5"/><stop offset="0.8582" stop-color="#feffd6"/><stop offset="0.8694" stop-color="#feffd6"/><stop offset="0.8724" stop-color="#feffd8"/><stop offset="0.9188" stop-color="#feffd8"/><stop offset="0.9218" stop-color="#ffffd9"/><stop offset="0.9996" stop-color="#ffffd9"/></linearGradient>
<linearGradient id="TR2" x1="0" y1="0" x2="0" y2="1"><stop offset="0.0004" stop-color="#ffffd9"/><stop offset="0.0782" stop-color="#ffffd9"/><stop offset="0.0812" stop-color="#feffd8"/><stop offset="0.1276" stop-color="#feffd8"/><stop offset="0.1306" stop-color="#feffd6"/><stop offset="0.1418" stop-color="#feffd6"/><stop offset="0.1448" stop-color="#fdfed5"/><stop offset="0.1493" stop-color="#fdfed5"/><stop offset="0.1523" stop-color="#fdfed4"/><stop offset="0.1598" stop-color="#fcfed1"/><stop offset="0.1695" stop-color="#f9fdcb"/><stop offset="0.1740" stop-color="#f8fcc9"/><stop offset="0.1800" stop-color="#f8fcc9"/><stop offset="0.1912" stop-color="#fbfdd0"/><stop offset="0.1980" stop-color="#fcfed3"/><stop offset="0.2047" stop-color="#fdfed4"/><stop offset="0.2077" stop-color="#fdfed5"/><stop offset="0.2144" stop-color="#fdfed5"/><stop offset="0.2174" stop-color="#feffd6"/><stop offset="0.3469" stop-color="#feffd6"/><stop offset="0.3499" stop-color="#fdfed5"/><stop offset="0.3859" stop-color="#fdfed5"/><stop offset="0.3888" stop-color="#fdfed4"/><stop offset="0.4113" stop-color="#fdfed4"/><stop offset="0.4143" stop-color="#fcfed3"/><stop offset="0.4300" stop-color="#fcfed3"/><stop offset="0.4330" stop-color="#fcfed1"/><stop offset="0.4450" stop-color="#fcfed1"/><stop offset="0.4480" stop-color="#fbfdd0"/><stop offset="0.4570" stop-color="#fbfdd0"/><stop offset="0.4600" stop-color="#fafdcf"/><stop offset="0.4667" stop-color="#fafdcf"/><stop offset="0.4697" stop-color="#fafdce"/><stop offset="0.4749" stop-color="#fafdce"/><stop offset="0.4779" stop-color="#f9fdcc"/><stop offset="0.4824" stop-color="#f9fdcc"/><stop offset="0.4854" stop-color="#f9fdcb"/><stop offset="0.4884" stop-color="#f9fdcb"/><stop offset="0.4914" stop-color="#f8fcca"/><stop offset="0.4944" stop-color="#f8fcca"/><stop offset="0.4974" stop-color="#f8fcc9"/><stop offset="0.5079" stop-color="#f7fcc6"/><stop offset="0.5109" stop-color="#f6fbc5"/><stop offset="0.5176" stop-color="#f5fbc2"/><stop offset="0.5326" stop-color="#f1fabb"/><stop offset="0.5430" stop-color="#eef8b3"/><stop offset="0.5468" stop-color="#ecf7b1"/><stop offset="0.5550" stop-color="#e3f4b2"/><stop offset="0.5670" stop-color="#d1edb3"/><stop offset="0.5715" stop-color="#c6e9b4"/><stop offset="0.5722" stop-color="#c4e8b4"/><stop offset="0.5730" stop-color="#c0e6b5"/><stop offset="0.5737" stop-color="#bde5b5"/><stop offset="0.5805" stop-color="#95d5b9"/><stop offset="0.5812" stop-color="#8ed3ba"/><stop offset="0.5820" stop-color="#89d1ba"/><stop offset="0.5865" stop-color="#65c3bf"/><stop offset="0.5894" stop-color="#48b9c3"/><stop offset="0.5902" stop-color="#40b5c4"/><stop offset="0.5932" stop-color="#2b9fc2"/><stop offset="0.5947" stop-color="#1d91c0"/><stop offset="0.5962" stop-color="#1f7eb7"/><stop offset="0.6007" stop-color="#253997"/><stop offset="0.6014" stop-color="#203089"/><stop offset="0.6029" stop-color="#0d2161"/><stop offset="0.6037" stop-color="#081d58"/><stop offset="0.6755" stop-color="#081d58"/><stop offset="0.6763" stop-color="#0e2265"/><stop offset="0.6778" stop-color="#21318d"/><stop offset="0.6785" stop-color="#243c98"/><stop offset="0.6815" stop-color="#216aad"/><stop offset="0.6838" stop-color="#1e8bbd"/><stop offset="0.6845" stop-color="#2094c0"/><stop offset="0.6875" stop-color="#37acc3"/><stop offset="0.6890" stop-color="#42b6c4"/><stop offset="0.6912" stop-color="#59bfc0"/><stop offset="0.6942" stop-color="#73c8bd"/><stop offset="0.6965" stop-color="#85cfba"/><stop offset="0.6972" stop-color="#89d1ba"/><stop offset="0.6980" stop-color="#90d4b9"/><stop offset="0.6995" stop-color="#99d7b8"/><stop offset="0.7002" stop-color="#a0dab8"/><stop offset="0.7040" stop-color="#b7e3b6"/><stop offset="0.7047" stop-color="#b9e4b5"/><stop offset="0.7062" stop-color="#c2e7b4"/><stop offset="0.7077" stop-color="#c8e9b4"/><stop offset="0.7137" stop-color="#d4eeb3"/><stop offset="0.7227" stop-color="#e2f4b2"/><stop offset="0.7317" stop-color="#ecf7b1"/><stop offset="0.7354" stop-color="#edf8b2"/><stop offset="0.7429" stop-color="#f0f9b8"/><stop offset="0.7541" stop-color="#f3fabf"/><stop offset="0.7631" stop-color="#f5fbc2"/><stop offset="0.7698" stop-color="#f6fbc5"/><stop offset="0.7841" stop-color="#f8fcc9"/><stop offset="0.7945" stop-color="#f9fdcb"/><stop offset="0.8043" stop-color="#f9fdcc"/><stop offset="0.8073" stop-color="#fafdce"/><stop offset="0.8125" stop-color="#fafdce"/><stop offset="0.8155" stop-color="#fafdcf"/><stop offset="0.8230" stop-color="#fafdcf"/><stop offset="0.8260" stop-color="#fbfdd0"/><stop offset="0.8357" stop-color="#fbfdd0"/><stop offset="0.8387" stop-color="#fcfed1"/><stop offset="0.8514" stop-color="#fcfed1"/><stop offset="0.8544" stop-color="#fcfed3"/><stop offset="0.8754" stop-color="#fcfed3"/><stop offset="0.8784" stop-color="#fdfed4"/><stop offset="0.9180" stop-color="#fdfed4"/><stop offset="0.9210" stop-color="#fcfed3"/><stop offset="0.9278" stop-color="#fcfed3"/><stop offset="0.9308" stop-color="#fcfed1"/><stop offset="0.9412" stop-color="#fafdce"/><stop offset="0.9502" stop-color="#f8fcc9"/><stop offset="0.9532" stop-color="#f7fcc7"/><stop offset="0.9562" stop-color="#f8fcc9"/><stop offset="0.9629" stop-color="#f9fdcc"/><stop offset="0.9697" stop-color="#fbfdd0"/><stop offset="0.9764" stop-color="#fcfed3"/><stop offset="0.9854" stop-color="#fdfed4"/><stop offset="0.9884" stop-color="#fdfed5"/><stop offset="0.9981" stop-color="#fdfed5"/><stop offset="0.9996" stop-color="#feffd6"/></linearGradient>
<linearGradient id="TR3" x1="0" y1="0" x2="0" y2="1"><stop offset="0.0004" stop-color="#feffd8"/><stop offset="0.0730" stop-color="#feffd8"/><stop offset="0.0760" stop-color="#feffd6"/><stop offset="0.2257" stop-color="#feffd6"/><stop offset="0.2287" stop-color="#fdfed5"/><stop offset="0.3125" stop-color="#fdfed5"/><stop offset="0.3155" stop-color="#fdfed4"/><stop offset="0.3694" stop-color="#fdfed4"/><stop offset="0.3724" stop-color="#fcfed3"/><stop offset="0.4106" stop-color="#fcfed3"/><stop offset="0.4135" stop-color="#fcfed1"/><stop offset="0.4420" stop-color="#fcfed1"/><stop offset="0.4450" stop-color="#fbfdd0"/><stop offset="0.4667" stop-color="#fbfdd0"/><stop offset="0.4697" stop-color="#fafdcf"/><stop offset="0.4862" stop-color="#fafdcf"/><stop offset="0.4891" stop-color="#fafdce"/><stop offset="0.5034" stop-color="#fafdce"/><stop offset="0.5064" stop-color="#f9fdcc"/><stop offset="0.5168" stop-color="#f9fdcc"/><stop offset="0.5198" stop-color="#f9fdcb"/><stop offset="0.5296" stop-color="#f9fdcb"/><stop offset="0.5326" stop-color="#f8fcca"/><stop offset="0.5400" stop-color="#f8fcca"/><stop offset="0.5430" stop-color="#f8fcc9"/><stop offset="0.5490" stop-color="#f8fcc9"/><stop offset="0.5520" stop-color="#f7fcc7"/><stop offset="0.5573" stop-color="#f7fcc7"/><stop offset="0.5603" stop-color="#f7fcc6"/><stop offset="0.5647" stop-color="#f7fcc6"/><stop offset="0.5677" stop-color="#f6fbc5"/><stop offset="0.5715" stop-color="#f6fbc5"/><stop offset="0.5745" stop-color="#f5fbc4"/><stop offset="0.5782" stop-color="#f5fbc4"/><stop offset="0.5812" stop-color="#f5fbc2"/><stop offset="0.5887" stop-color="#f4fbc1"/><stop offset="0.5917" stop-color="#f4fbc0"/><stop offset="0.6156" stop-color="#f0f9b8"/><stop offset="0.6231" stop-color="#eff9b5"/><stop offset="0.6306" stop-color="#edf8b1"/><stop offset="0.6448" stop-color="#e3f4b2"/><stop offset="0.6576" stop-color="#d7efb3"/><stop offset="0.6665" stop-color="#cbebb4"/><stop offset="0.6703" stop-color="#c4e8b4"/><stop offset="0.6740" stop-color="#b9e4b5"/><stop offset="0.6748" stop-color="#b4e2b6"/><stop offset="0.6763" stop-color="#b0e0b6"/><stop offset="0.6770" stop-color="#abdeb7"/><stop offset="0.6785" stop-color="#a7dcb7"/><stop offset="0.6793" stop-color="#a2dbb8"/><stop offset="0.6800" stop-color="#a0dab8"/><stop offset="0.6815" stop-color="#97d6b9"/><stop offset="0.6823" stop-color="#95d5b9"/><stop offset="0.6845" stop-color="#87d0ba"/><stop offset="0.6853" stop-color="#85cfba"/><stop offset="0.6868" stop-color="#7cccbb"/><stop offset="0.6882" stop-color="#73c8bd"/><stop offset="0.6897" stop-color="#6bc6be"/><stop offset="0.6927" stop-color="#55bec1"/><stop offset="0.6942" stop-color="#4cbac2"/><stop offset="0.6957" stop-color="#40b5c4"/><stop offset="0.7002" stop-color="#289cc1"/><stop offset="0.7017" stop-color="#1d91c0"/><stop offset="0.7047" stop-color="#2072b1"/><stop offset="0.7062" stop-color="#225ea8"/><stop offset="0.7085" stop-color="#24459c"/><stop offset="0.7092" stop-color="#253b97"/><stop offset="0.7100" stop-color="#233390"/><stop offset="0.7115" stop-color="#142670"/><stop offset="0.7122" stop-color="#0c2060"/><stop offset="0.7129" stop-color="#081d58"/><stop offset="0.7646" stop-color="#081d58"/><stop offset="0.7653" stop-color="#0f2367"/><stop offset="0.7661" stop-color="#203089"/><stop offset="0.7668" stop-color="#24419a"/><stop offset="0.7691" stop-color="#1f7bb6"/><stop offset="0.7698" stop-color="#1d8dbe"/><stop offset="0.7706" stop-color="#259ac1"/><stop offset="0.7728" stop-color="#42b6c4"/><stop offset="0.7743" stop-color="#5dc0c0"/><stop offset="0.7758" stop-color="#75c9bd"/><stop offset="0.7788" stop-color="#9ed9b8"/><stop offset="0.7796" stop-color="#a7dcb7"/><stop offset="0.7803" stop-color="#aedfb6"/><stop offset="0.7811" stop-color="#b7e3b6"/><stop offset="0.7826" stop-color="#c4e8b4"/><stop offset="0.7841" stop-color="#cdebb4"/><stop offset="0.7893" stop-color="#dff2b2"/><stop offset="0.7960" stop-color="#edf8b1"/><stop offset="0.7998" stop-color="#f0f9b7"/><stop offset="0.8065" stop-color="#f3fabf"/><stop offset="0.8095" stop-color="#f4fbc1"/><stop offset="0.8170" stop-color="#f7fcc6"/><stop offset="0.8237" stop-color="#f8fcc9"/><stop offset="0.8320" stop-color="#f9fdcb"/><stop offset="0.8462" stop-color="#f9fdcc"/><stop offset="0.8544" stop-color="#f9fdcc"/><stop offset="0.8574" stop-color="#f9fdcb"/><stop offset="0.8641" stop-color="#f8fcc9"/><stop offset="0.8701" stop-color="#f5fbc2"/><stop offset="0.8746" stop-color="#f1fabb"/><stop offset="0.8784" stop-color="#ecf7b1"/><stop offset="0.8799" stop-color="#e6f5b2"/><stop offset="0.8829" stop-color="#d4eeb3"/><stop offset="0.8844" stop-color="#c8e9b4"/><stop offset="0.8851" stop-color="#bde5b5"/><stop offset="0.8866" stop-color="#9ed9b8"/><stop offset="0.8888" stop-color="#69c5be"/><stop offset="0.8903" stop-color="#42b6c4"/><stop offset="0.8926" stop-color="#1d91c0"/><stop offset="0.8948" stop-color="#2260a9"/><stop offset="0.8963" stop-color="#234b9f"/><stop offset="0.8971" stop-color="#24439b"/><stop offset="0.8986" stop-color="#253896"/><stop offset="0.9001" stop-color="#243392"/><stop offset="0.9016" stop-color="#233390"/><stop offset="0.9031" stop-color="#233390"/><stop offset="0.9038" stop-color="#253494"/><stop offset="0.9053" stop-color="#24409a"/><stop offset="0.9076" stop-color="#2259a6"/><stop offset="0.9098" stop-color="#1f7db6"/><stop offset="0.9106" stop-color="#1e8abd"/><stop offset="0.9113" stop-color="#2094c0"/><stop offset="0.9143" stop-color="#3eb3c4"/><stop offset="0.9150" stop-color="#48b9c3"/><stop offset="0.9165" stop-color="#5dc0c0"/><stop offset="0.9180" stop-color="#71c8bd"/><stop offset="0.9203" stop-color="#89d1ba"/><stop offset="0.9210" stop-color="#92d5b9"/><stop offset="0.9218" stop-color="#99d7b8"/><stop offset="0.9225" stop-color="#a2dbb8"/><stop offset="0.9240" stop-color="#b0e0b6"/><stop offset="0.9248" stop-color="#b4e2b6"/><stop offset="0.9255" stop-color="#bbe4b5"/><stop offset="0.9278" stop-color="#c8e9b4"/><stop offset="0.9315" stop-color="#d3eeb3"/><stop offset="0.9368" stop-color="#ddf2b2"/><stop offset="0.9427" stop-color="#e5f5b2"/><stop offset="0.9472" stop-color="#e8f6b1"/><stop offset="0.9540" stop-color="#ecf7b1"/><stop offset="0.9629" stop-color="#edf8b2"/><stop offset="0.9659" stop-color="#eef8b3"/><stop offset="0.9719" stop-color="#eef8b3"/><stop offset="0.9749" stop-color="#eff9b5"/><stop offset="0.9944" stop-color="#eff9b5"/><stop offset="0.9974" stop-color="#eff9b6"/><stop offset="0.9996" stop-color="#eff9b6"/></linearGradient>
<linearGradient id="BL0" x1="0" y1="0" x2="0" y2="1"><stop offset="0.0004" stop-color="#ddf2b2"/><stop offset="0.0086" stop-color="#ceecb3"/><stop offset="0.0116" stop-color="#c6e9b4"/><stop offset="0.0176" stop-color="#a2dbb8"/><stop offset="0.0191" stop-color="#95d5b9"/><stop offset="0.0198" stop-color="#90d4b9"/><stop offset="0.0213" stop-color="#83cebb"/><stop offset="0.0221" stop-color="#7acbbc"/><stop offset="0.0236" stop-color="#6dc6be"/><stop offset="0.0251" stop-color="#5dc0c0"/><stop offset="0.0273" stop-color="#42b6c4"/><stop offset="0.0303" stop-color="#259ac1"/><stop offset="0.0311" stop-color="#1d91c0"/><stop offset="0.0326" stop-color="#2076b3"/><stop offset="0.0356" stop-color="#253997"/><stop offset="0.0363" stop-color="#1c2d81"/><stop offset="0.0371" stop-color="#0e2265"/><stop offset="0.0378" stop-color="#081d58"/><stop offset="0.0632" stop-color="#081d58"/><stop offset="0.0640" stop-color="#0c2060"/><stop offset="0.0647" stop-color="#1b2c80"/><stop offset="0.0655" stop-color="#253997"/><stop offset="0.0677" stop-color="#2076b3"/><stop offset="0.0685" stop-color="#1e8abd"/><stop offset="0.0692" stop-color="#259ac1"/><stop offset="0.0707" stop-color="#3cb1c3"/><stop offset="0.0715" stop-color="#4ab9c3"/><stop offset="0.0722" stop-color="#5bc0c0"/><stop offset="0.0760" stop-color="#a0dab8"/><stop offset="0.0767" stop-color="#abdeb7"/><stop offset="0.0775" stop-color="#b4e2b6"/><stop offset="0.0782" stop-color="#c0e6b5"/><stop offset="0.0790" stop-color="#c8e9b4"/><stop offset="0.0827" stop-color="#dbf1b2"/><stop offset="0.0872" stop-color="#eaf7b1"/><stop offset="0.0894" stop-color="#eef8b3"/><stop offset="0.0924" stop-color="#f1faba"/><stop offset="0.0969" stop-color="#f4fbc1"/><stop offset="0.1059" stop-color="#f8fcc9"/><stop offset="0.1134" stop-color="#f9fdcc"/><stop offset="0.1239" stop-color="#fafdcf"/><stop offset="0.1381" stop-color="#fbfdd0"/><stop offset="0.1471" stop-color="#fbfdd0"/><stop offset="0.1501" stop-color="#fafdcf"/><stop offset="0.1546" stop-color="#fafdcf"/><stop offset="0.1576" stop-color="#fafdce"/><stop offset="0.1680" stop-color="#f8fcca"/><stop offset="0.1778" stop-color="#f5fbc2"/><stop offset="0.1838" stop-color="#f1fabb"/><stop offset="0.1890" stop-color="#edf8b1"/><stop offset="0.1927" stop-color="#e3f4b2"/><stop offset="0.1965" stop-color="#d6efb3"/><stop offset="0.1995" stop-color="#c6e9b4"/><stop offset="0.2010" stop-color="#b4e2b6"/><stop offset="0.2032" stop-color="#92d5b9"/><stop offset="0.2055" stop-color="#6bc6be"/><stop offset="0.2070" stop-color="#4cbac2"/><stop offset="0.2077" stop-color="#3db2c4"/><stop offset="0.2092" stop-color="#259ac1"/><stop offset="0.2100" stop-color="#1e8abd"/><stop offset="0.2107" stop-color="#2075b3"/><stop offset="0.2115" stop-color="#225da8"/><stop offset="0.2122" stop-color="#24489d"/><stop offset="0.2129" stop-color="#22328f"/><stop offset="0.2137" stop-color="#102369"/><stop offset="0.2144" stop-color="#081d58"/><stop offset="0.2436" stop-color="#081d58"/><stop offset="0.2451" stop-color="#21308b"/><stop offset="0.2459" stop-color="#243d98"/><stop offset="0.2466" stop-color="#234da0"/><stop offset="0.2496" stop-color="#1e83ba"/><stop offset="0.2504" stop-color="#1d8ebf"/><stop offset="0.2511" stop-color="#2397c1"/><stop offset="0.2519" stop-color="#2b9fc2"/><stop offset="0.2549" stop-color="#44b7c4"/><stop offset="0.2586" stop-color="#6bc6be"/><stop offset="0.2624" stop-color="#89d1ba"/><stop offset="0.2631" stop-color="#8ed3ba"/><stop offset="0.2638" stop-color="#95d5b9"/><stop offset="0.2691" stop-color="#b4e2b6"/><stop offset="0.2698" stop-color="#b7e3b6"/><stop offset="0.2713" stop-color="#c0e6b5"/><stop offset="0.2721" stop-color="#c2e7b4"/><stop offset="0.2728" stop-color="#c6e9b4"/><stop offset="0.2796" stop-color="#d3eeb3"/><stop offset="0.2856" stop-color="#dcf1b2"/><stop offset="0.2975" stop-color="#e8f6b1"/><stop offset="0.3050" stop-color="#edf8b1"/><stop offset="0.3177" stop-color="#f0f9b8"/><stop offset="0.3305" stop-color="#f3fabd"/><stop offset="0.3424" stop-color="#f4fbc1"/><stop offset="0.3529" stop-color="#f5fbc4"/><stop offset="0.3597" stop-color="#f6fbc5"/><stop offset="0.3626" stop-color="#f7fcc6"/><stop offset="0.3664" stop-color="#f7fcc6"/><stop offset="0.3694" stop-color="#f7fcc7"/><stop offset="0.3739" stop-color="#f7fcc7"/><stop offset="0.3769" stop-color="#f8fcc9"/><stop offset="0.3829" stop-color="#f8fcc9"/><stop offset="0.3859" stop-color="#f8fcca"/><stop offset="0.3926" stop-color="#f8fcca"/><stop offset="0.3956" stop-color="#f9fdcb"/><stop offset="0.4038" stop-color="#f9fdcb"/><stop offset="0.4068" stop-color="#f9fdcc"/><stop offset="0.4173" stop-color="#f9fdcc"/><stop offset="0.4203" stop-color="#fafdce"/><stop offset="0.4338" stop-color="#fafdce"/><stop offset="0.4368" stop-color="#fafdcf"/><stop offset="0.4532" stop-color="#fafdcf"/><stop offset="0.4562" stop-color="#fbfdd0"/><stop offset="0.4779" stop-color="#fbfdd0"/><stop offset="0.4809" stop-color="#fcfed1"/><stop offset="0.5094" stop-color="#fcfed1"/><stop offset="0.5124" stop-color="#fcfed3"/><stop offset="0.5520" stop-color="#fcfed3"/><stop offset="0.5550" stop-color="#fdfed4"/><stop offset="0.6126" stop-color="#fdfed4"/><stop offset="0.6156" stop-color="#fdfed5"/><stop offset="0.7085" stop-color="#fdfed5"/><stop offset="0.7115" stop-color="#feffd6"/><stop offset="0.8859" stop-color="#feffd6"/><stop offset="0.8888" stop-color="#feffd8"/><stop offset="0.9996" stop-color="#feffd8"/></linearGradient>
<linearGradient id="BL1" x1="0" y1="0" x2="0" y2="1"><stop offset="0.0004" stop-color="#fdfed5"/><stop offset="0.0071" stop-color="#fdfed5"/><stop offset="0.0101" stop-color="#fdfed4"/><stop offset="0.0138" stop-color="#fdfed4"/><stop offset="0.0168" stop-color="#fcfed3"/><stop offset="0.0266" stop-color="#fafdcf"/><stop offset="0.0296" stop-color="#f9fdcc"/><stop offset="0.0393" stop-color="#f6fbc5"/><stop offset="0.0460" stop-color="#f5fbc4"/><stop offset="0.0573" stop-color="#f9fdcc"/><stop offset="0.0662" stop-color="#fbfdd0"/><stop offset="0.0767" stop-color="#fcfed3"/><stop offset="0.0820" stop-color="#fcfed3"/><stop offset="0.0850" stop-color="#fdfed4"/><stop offset="0.1186" stop-color="#fdfed4"/><stop offset="0.1216" stop-color="#fcfed3"/><stop offset="0.1388" stop-color="#fcfed3"/><stop offset="0.1418" stop-color="#fcfed1"/><stop offset="0.1523" stop-color="#fcfed1"/><stop offset="0.1553" stop-color="#fbfdd0"/><stop offset="0.1628" stop-color="#fbfdd0"/><stop offset="0.1658" stop-color="#fafdcf"/><stop offset="0.1710" stop-color="#fafdcf"/><stop offset="0.1740" stop-color="#fafdce"/><stop offset="0.1778" stop-color="#fafdce"/><stop offset="0.1808" stop-color="#f9fdcc"/><stop offset="0.1838" stop-color="#f9fdcc"/><stop offset="0.1868" stop-color="#f9fdcb"/><stop offset="0.1935" stop-color="#f8fcca"/><stop offset="0.1965" stop-color="#f8fcc9"/><stop offset="0.2070" stop-color="#f6fbc5"/><stop offset="0.2204" stop-color="#f3fabd"/><stop offset="0.2234" stop-color="#f1fabb"/><stop offset="0.2279" stop-color="#f0f9b7"/><stop offset="0.2339" stop-color="#edf8b1"/><stop offset="0.2414" stop-color="#e3f4b2"/><stop offset="0.2496" stop-color="#d3eeb3"/><stop offset="0.2534" stop-color="#c8e9b4"/><stop offset="0.2564" stop-color="#b7e3b6"/><stop offset="0.2571" stop-color="#b0e0b6"/><stop offset="0.2579" stop-color="#abdeb7"/><stop offset="0.2624" stop-color="#83cebb"/><stop offset="0.2661" stop-color="#5bc0c0"/><stop offset="0.2676" stop-color="#48b9c3"/><stop offset="0.2683" stop-color="#3eb3c4"/><stop offset="0.2706" stop-color="#299dc1"/><stop offset="0.2713" stop-color="#2195c0"/><stop offset="0.2721" stop-color="#1e8bbd"/><stop offset="0.2736" stop-color="#2070b0"/><stop offset="0.2743" stop-color="#2260a9"/><stop offset="0.2758" stop-color="#24449c"/><stop offset="0.2766" stop-color="#243392"/><stop offset="0.2781" stop-color="#0c2060"/><stop offset="0.2788" stop-color="#081d58"/><stop offset="0.3290" stop-color="#081d58"/><stop offset="0.3297" stop-color="#102369"/><stop offset="0.3305" stop-color="#1c2d81"/><stop offset="0.3312" stop-color="#253795"/><stop offset="0.3327" stop-color="#2352a3"/><stop offset="0.3335" stop-color="#225ea8"/><stop offset="0.3350" stop-color="#1f7ab5"/><stop offset="0.3365" stop-color="#1d91c0"/><stop offset="0.3387" stop-color="#33a7c2"/><stop offset="0.3402" stop-color="#3eb3c4"/><stop offset="0.3409" stop-color="#46b8c3"/><stop offset="0.3424" stop-color="#57bec1"/><stop offset="0.3454" stop-color="#76cabc"/><stop offset="0.3492" stop-color="#97d6b9"/><stop offset="0.3499" stop-color="#9cd8b8"/><stop offset="0.3507" stop-color="#a2dbb8"/><stop offset="0.3522" stop-color="#abdeb7"/><stop offset="0.3529" stop-color="#b2e1b6"/><stop offset="0.3552" stop-color="#c0e6b5"/><stop offset="0.3559" stop-color="#c2e7b4"/><stop offset="0.3574" stop-color="#c9eab4"/><stop offset="0.3634" stop-color="#d6efb3"/><stop offset="0.3701" stop-color="#e2f4b2"/><stop offset="0.3784" stop-color="#ecf7b1"/><stop offset="0.3829" stop-color="#eef8b3"/><stop offset="0.3903" stop-color="#f1faba"/><stop offset="0.4038" stop-color="#f4fbc1"/><stop offset="0.4135" stop-color="#f6fbc5"/><stop offset="0.4218" stop-color="#f7fcc7"/><stop offset="0.4315" stop-color="#f8fcca"/><stop offset="0.4382" stop-color="#f9fdcb"/><stop offset="0.4450" stop-color="#f9fdcc"/><stop offset="0.4517" stop-color="#fafdce"/><stop offset="0.4637" stop-color="#fafdcf"/><stop offset="0.4667" stop-color="#fbfdd0"/><stop offset="0.4757" stop-color="#fbfdd0"/><stop offset="0.4787" stop-color="#fcfed1"/><stop offset="0.4914" stop-color="#fcfed1"/><stop offset="0.4944" stop-color="#fcfed3"/><stop offset="0.5109" stop-color="#fcfed3"/><stop offset="0.5138" stop-color="#fdfed4"/><stop offset="0.5385" stop-color="#fdfed4"/><stop offset="0.5415" stop-color="#fdfed5"/><stop offset="0.5812" stop-color="#fdfed5"/><stop offset="0.5842" stop-color="#feffd6"/><stop offset="0.7638" stop-color="#feffd6"/><stop offset="0.7668" stop-color="#fdfed5"/><stop offset="0.7811" stop-color="#fdfed5"/><stop offset="0.7841" stop-color="#fdfed4"/><stop offset="0.7900" stop-color="#fdfed4"/><stop offset="0.7930" stop-color="#fcfed3"/><stop offset="0.7968" stop-color="#fcfed3"/><stop offset="0.7998" stop-color="#fcfed1"/><stop offset="0.8132" stop-color="#f9fdcc"/><stop offset="0.8215" stop-color="#f6fbc5"/><stop offset="0.8282" stop-color="#f2fabc"/><stop offset="0.8312" stop-color="#eff9b6"/><stop offset="0.8335" stop-color="#edf8b1"/><stop offset="0.8402" stop-color="#dff2b2"/><stop offset="0.8447" stop-color="#d9f0b3"/><stop offset="0.8477" stop-color="#daf0b3"/><stop offset="0.8507" stop-color="#ddf2b2"/><stop offset="0.8574" stop-color="#edf8b1"/><stop offset="0.8679" stop-color="#f5fbc4"/><stop offset="0.8746" stop-color="#f8fcca"/><stop offset="0.8836" stop-color="#fafdcf"/><stop offset="0.8956" stop-color="#fcfed3"/><stop offset="0.9061" stop-color="#fdfed4"/><stop offset="0.9091" stop-color="#fdfed5"/><stop offset="0.9180" stop-color="#fdfed5"/><stop offset="0.9210" stop-color="#feffd6"/><stop offset="0.9405" stop-color="#feffd6"/><stop offset="0.9435" stop-color="#feffd8"/><stop offset="0.9996" stop-color="#feffd8"/></linearGradient>
<linearGradient id="BL2" x1="0" y1="0" x2="0" y2="1"><stop offset="0.0004" stop-color="#feffd8"/><stop offset="0.0565" stop-color="#feffd8"/><stop offset="0.0595" stop-color="#feffd6"/><stop offset="0.0797" stop-color="#feffd6"/><stop offset="0.0827" stop-color="#fdfed5"/><stop offset="0.0917" stop-color="#fdfed5"/><stop offset="0.0947" stop-color="#fdfed4"/><stop offset="0.0999" stop-color="#fdfed4"/><stop offset="0.1029" stop-color="#fcfed3"/><stop offset="0.1097" stop-color="#fcfed1"/><stop offset="0.1126" stop-color="#fbfdd0"/><stop offset="0.1224" stop-color="#f9fdcb"/><stop offset="0.1291" stop-color="#f6fbc5"/><stop offset="0.1359" stop-color="#f1fabb"/><stop offset="0.1388" stop-color="#eff9b6"/><stop offset="0.1411" stop-color="#edf8b1"/><stop offset="0.1493" stop-color="#dbf1b2"/><stop offset="0.1531" stop-color="#d9f0b3"/><stop offset="0.1553" stop-color="#daf0b3"/><stop offset="0.1576" stop-color="#dcf1b2"/><stop offset="0.1650" stop-color="#edf8b1"/><stop offset="0.1710" stop-color="#f3fabd"/><stop offset="0.1740" stop-color="#f4fbc1"/><stop offset="0.1793" stop-color="#f7fcc7"/><stop offset="0.1860" stop-color="#f9fdcc"/><stop offset="0.1957" stop-color="#fbfdd0"/><stop offset="0.2055" stop-color="#fcfed3"/><stop offset="0.2174" stop-color="#fdfed4"/><stop offset="0.2204" stop-color="#fdfed5"/><stop offset="0.2354" stop-color="#fdfed5"/><stop offset="0.2384" stop-color="#feffd6"/><stop offset="0.4098" stop-color="#feffd6"/><stop offset="0.4128" stop-color="#fdfed5"/><stop offset="0.4547" stop-color="#fdfed5"/><stop offset="0.4577" stop-color="#fdfed4"/><stop offset="0.4824" stop-color="#fdfed4"/><stop offset="0.4854" stop-color="#fcfed3"/><stop offset="0.5026" stop-color="#fcfed3"/><stop offset="0.5056" stop-color="#fcfed1"/><stop offset="0.5183" stop-color="#fcfed1"/><stop offset="0.5213" stop-color="#fbfdd0"/><stop offset="0.5303" stop-color="#fbfdd0"/><stop offset="0.5333" stop-color="#fafdcf"/><stop offset="0.5408" stop-color="#fafdcf"/><stop offset="0.5438" stop-color="#fafdce"/><stop offset="0.5490" stop-color="#fafdce"/><stop offset="0.5520" stop-color="#f9fdcc"/><stop offset="0.5565" stop-color="#f9fdcc"/><stop offset="0.5595" stop-color="#f9fdcb"/><stop offset="0.5625" stop-color="#f9fdcb"/><stop offset="0.5655" stop-color="#f8fcca"/><stop offset="0.5685" stop-color="#f8fcca"/><stop offset="0.5715" stop-color="#f8fcc9"/><stop offset="0.5917" stop-color="#f5fbc2"/><stop offset="0.5962" stop-color="#f4fbc0"/><stop offset="0.6052" stop-color="#f1fabb"/><stop offset="0.6119" stop-color="#eff9b6"/><stop offset="0.6149" stop-color="#eef8b3"/><stop offset="0.6186" stop-color="#ecf7b1"/><stop offset="0.6231" stop-color="#e7f6b1"/><stop offset="0.6314" stop-color="#dcf1b2"/><stop offset="0.6396" stop-color="#cbebb4"/><stop offset="0.6418" stop-color="#c4e8b4"/><stop offset="0.6471" stop-color="#a5dcb7"/><stop offset="0.6478" stop-color="#9ed9b8"/><stop offset="0.6486" stop-color="#99d7b8"/><stop offset="0.6523" stop-color="#78cbbc"/><stop offset="0.6553" stop-color="#5dc0c0"/><stop offset="0.6576" stop-color="#44b7c4"/><stop offset="0.6598" stop-color="#31a5c2"/><stop offset="0.6613" stop-color="#2397c1"/><stop offset="0.6621" stop-color="#1d8ebf"/><stop offset="0.6635" stop-color="#1f78b4"/><stop offset="0.6650" stop-color="#225da8"/><stop offset="0.6665" stop-color="#24449c"/><stop offset="0.6673" stop-color="#253595"/><stop offset="0.6688" stop-color="#102369"/><stop offset="0.6695" stop-color="#081d58"/><stop offset="0.7212" stop-color="#081d58"/><stop offset="0.7219" stop-color="#11246b"/><stop offset="0.7227" stop-color="#1d2e83"/><stop offset="0.7234" stop-color="#253997"/><stop offset="0.7264" stop-color="#2073b2"/><stop offset="0.7279" stop-color="#1d8dbe"/><stop offset="0.7287" stop-color="#2397c1"/><stop offset="0.7317" stop-color="#3fb4c4"/><stop offset="0.7339" stop-color="#5bc0c0"/><stop offset="0.7369" stop-color="#7acbbc"/><stop offset="0.7376" stop-color="#80cebb"/><stop offset="0.7384" stop-color="#89d1ba"/><stop offset="0.7414" stop-color="#a5dcb7"/><stop offset="0.7421" stop-color="#a9ddb7"/><stop offset="0.7429" stop-color="#b0e0b6"/><stop offset="0.7466" stop-color="#c6e9b4"/><stop offset="0.7511" stop-color="#d4eeb3"/><stop offset="0.7601" stop-color="#e5f5b2"/><stop offset="0.7668" stop-color="#edf8b1"/><stop offset="0.7811" stop-color="#f3fabd"/><stop offset="0.7900" stop-color="#f5fbc2"/><stop offset="0.7990" stop-color="#f7fcc6"/><stop offset="0.8110" stop-color="#f8fcca"/><stop offset="0.8215" stop-color="#f9fdcc"/><stop offset="0.8305" stop-color="#fafdce"/><stop offset="0.8335" stop-color="#fafdcf"/><stop offset="0.8387" stop-color="#fafdcf"/><stop offset="0.8417" stop-color="#fbfdd0"/><stop offset="0.8492" stop-color="#fbfdd0"/><stop offset="0.8522" stop-color="#fcfed1"/><stop offset="0.8634" stop-color="#fcfed1"/><stop offset="0.8664" stop-color="#fcfed3"/><stop offset="0.8874" stop-color="#fcfed3"/><stop offset="0.8903" stop-color="#fdfed4"/><stop offset="0.9121" stop-color="#fdfed4"/><stop offset="0.9150" stop-color="#fcfed3"/><stop offset="0.9248" stop-color="#fcfed3"/><stop offset="0.9278" stop-color="#fcfed1"/><stop offset="0.9308" stop-color="#fcfed1"/><stop offset="0.9338" stop-color="#fbfdd0"/><stop offset="0.9412" stop-color="#f9fdcc"/><stop offset="0.9510" stop-color="#f6fbc5"/><stop offset="0.9577" stop-color="#f5fbc4"/><stop offset="0.9689" stop-color="#f9fdcc"/><stop offset="0.9757" stop-color="#fbfdd0"/><stop offset="0.9839" stop-color="#fcfed3"/><stop offset="0.9906" stop-color="#fdfed4"/><stop offset="0.9974" stop-color="#fdfed5"/><stop offset="0.9996" stop-color="#fdfed5"/></linearGradient>
<linearGradient id="BL3" x1="0" y1="0" x2="0" y2="1"><stop offset="0.0004" stop-color="#feffd8"/><stop offset="0.0610" stop-color="#feffd8"/><stop offset="0.0640" stop-color="#feffd6"/><stop offset="0.2519" stop-color="#feffd6"/><stop offset="0.2549" stop-color="#fdfed5"/><stop offset="0.3552" stop-color="#fdfed5"/><stop offset="0.3582" stop-color="#fdfed4"/><stop offset="0.4210" stop-color="#fdfed4"/><stop offset="0.4240" stop-color="#fcfed3"/><stop offset="0.4667" stop-color="#fcfed3"/><stop offset="0.4697" stop-color="#fcfed1"/><stop offset="0.5004" stop-color="#fcfed1"/><stop offset="0.5034" stop-color="#fbfdd0"/><stop offset="0.5273" stop-color="#fbfdd0"/><stop offset="0.5303" stop-color="#fafdcf"/><stop offset="0.5483" stop-color="#fafdcf"/><stop offset="0.5513" stop-color="#fafdce"/><stop offset="0.5655" stop-color="#fafdce"/><stop offset="0.5685" stop-color="#f9fdcc"/><stop offset="0.5797" stop-color="#f9fdcc"/><stop offset="0.5827" stop-color="#f9fdcb"/><stop offset="0.5924" stop-color="#f9fdcb"/><stop offset="0.5954" stop-color="#f8fcca"/><stop offset="0.6029" stop-color="#f8fcca"/><stop offset="0.6059" stop-color="#f8fcc9"/><stop offset="0.6126" stop-color="#f8fcc9"/><stop offset="0.6156" stop-color="#f7fcc7"/><stop offset="0.6201" stop-color="#f7fcc7"/><stop offset="0.6231" stop-color="#f7fcc6"/><stop offset="0.6276" stop-color="#f7fcc6"/><stop offset="0.6306" stop-color="#f6fbc5"/><stop offset="0.6344" stop-color="#f6fbc5"/><stop offset="0.6374" stop-color="#f5fbc4"/><stop offset="0.6403" stop-color="#f5fbc4"/><stop offset="0.6433" stop-color="#f5fbc2"/><stop offset="0.6501" stop-color="#f4fbc1"/><stop offset="0.6531" stop-color="#f4fbc0"/><stop offset="0.6658" stop-color="#f2fabc"/><stop offset="0.6688" stop-color="#f1fabb"/><stop offset="0.6845" stop-color="#eef8b3"/><stop offset="0.6890" stop-color="#edf8b1"/><stop offset="0.6935" stop-color="#e9f7b1"/><stop offset="0.6995" stop-color="#e5f5b2"/><stop offset="0.7077" stop-color="#dcf1b2"/><stop offset="0.7167" stop-color="#d0edb3"/><stop offset="0.7219" stop-color="#c6e9b4"/><stop offset="0.7227" stop-color="#c2e7b4"/><stop offset="0.7242" stop-color="#bde5b5"/><stop offset="0.7249" stop-color="#b9e4b5"/><stop offset="0.7257" stop-color="#b7e3b6"/><stop offset="0.7272" stop-color="#aedfb6"/><stop offset="0.7279" stop-color="#abdeb7"/><stop offset="0.7324" stop-color="#90d4b9"/><stop offset="0.7332" stop-color="#89d1ba"/><stop offset="0.7339" stop-color="#85cfba"/><stop offset="0.7347" stop-color="#7ecdbb"/><stop offset="0.7362" stop-color="#75c9bd"/><stop offset="0.7376" stop-color="#69c5be"/><stop offset="0.7406" stop-color="#4cbac2"/><stop offset="0.7414" stop-color="#44b7c4"/><stop offset="0.7429" stop-color="#39adc3"/><stop offset="0.7451" stop-color="#269bc1"/><stop offset="0.7459" stop-color="#2094c0"/><stop offset="0.7466" stop-color="#1e8abd"/><stop offset="0.7481" stop-color="#2072b1"/><stop offset="0.7504" stop-color="#234c9f"/><stop offset="0.7511" stop-color="#243d98"/><stop offset="0.7519" stop-color="#21308b"/><stop offset="0.7526" stop-color="#162874"/><stop offset="0.7534" stop-color="#091e5a"/><stop offset="0.7549" stop-color="#081d58"/><stop offset="0.7848" stop-color="#081d58"/><stop offset="0.7856" stop-color="#091e5a"/><stop offset="0.7863" stop-color="#1b2c80"/><stop offset="0.7871" stop-color="#243d98"/><stop offset="0.7893" stop-color="#1f7eb7"/><stop offset="0.7900" stop-color="#1d91c0"/><stop offset="0.7908" stop-color="#2b9fc2"/><stop offset="0.7923" stop-color="#40b5c4"/><stop offset="0.7930" stop-color="#52bcc2"/><stop offset="0.7945" stop-color="#6fc7bd"/><stop offset="0.7960" stop-color="#87d0ba"/><stop offset="0.7968" stop-color="#95d5b9"/><stop offset="0.7975" stop-color="#a0dab8"/><stop offset="0.7983" stop-color="#a9ddb7"/><stop offset="0.7990" stop-color="#b4e2b6"/><stop offset="0.7998" stop-color="#bde5b5"/><stop offset="0.8013" stop-color="#caeab4"/><stop offset="0.8050" stop-color="#dbf1b2"/><stop offset="0.8103" stop-color="#eaf7b1"/><stop offset="0.8118" stop-color="#edf8b1"/><stop offset="0.8185" stop-color="#f3fabd"/><stop offset="0.8260" stop-color="#f6fbc5"/><stop offset="0.8350" stop-color="#f8fcca"/><stop offset="0.8417" stop-color="#f9fdcc"/><stop offset="0.8522" stop-color="#fafdcf"/><stop offset="0.8582" stop-color="#fafdcf"/><stop offset="0.8612" stop-color="#fbfdd0"/><stop offset="0.8694" stop-color="#fbfdd0"/><stop offset="0.8724" stop-color="#fafdcf"/><stop offset="0.8784" stop-color="#fafdcf"/><stop offset="0.8814" stop-color="#fafdce"/><stop offset="0.8896" stop-color="#f9fdcb"/><stop offset="0.8986" stop-color="#f6fbc5"/><stop offset="0.9031" stop-color="#f4fbc0"/><stop offset="0.9068" stop-color="#f1fabb"/><stop offset="0.9113" stop-color="#edf8b1"/><stop offset="0.9158" stop-color="#dff2b2"/><stop offset="0.9188" stop-color="#d1edb3"/><stop offset="0.9203" stop-color="#c9eab4"/><stop offset="0.9210" stop-color="#c2e7b4"/><stop offset="0.9218" stop-color="#b7e3b6"/><stop offset="0.9225" stop-color="#aedfb6"/><stop offset="0.9233" stop-color="#a2dbb8"/><stop offset="0.9270" stop-color="#5dc0c0"/><stop offset="0.9278" stop-color="#4cbac2"/><stop offset="0.9285" stop-color="#3db2c4"/><stop offset="0.9293" stop-color="#33a7c2"/><stop offset="0.9300" stop-color="#269bc1"/><stop offset="0.9308" stop-color="#1d8dbe"/><stop offset="0.9315" stop-color="#1f7ab5"/><stop offset="0.9323" stop-color="#2163aa"/><stop offset="0.9338" stop-color="#243d98"/><stop offset="0.9345" stop-color="#1d2e83"/><stop offset="0.9353" stop-color="#0e2265"/><stop offset="0.9360" stop-color="#081d58"/><stop offset="0.9607" stop-color="#081d58"/><stop offset="0.9622" stop-color="#22328f"/><stop offset="0.9629" stop-color="#24419a"/><stop offset="0.9659" stop-color="#1f80b8"/><stop offset="0.9667" stop-color="#1d8dbe"/><stop offset="0.9674" stop-color="#2397c1"/><stop offset="0.9697" stop-color="#3aaec3"/><stop offset="0.9704" stop-color="#40b5c4"/><stop offset="0.9727" stop-color="#5dc0c0"/><stop offset="0.9757" stop-color="#7cccbb"/><stop offset="0.9794" stop-color="#9ed9b8"/><stop offset="0.9802" stop-color="#a2dbb8"/><stop offset="0.9809" stop-color="#a9ddb7"/><stop offset="0.9862" stop-color="#c8e9b4"/><stop offset="0.9921" stop-color="#d5efb3"/><stop offset="0.9974" stop-color="#dff2b2"/><stop offset="0.9996" stop-color="#e1f3b2"/></linearGradient>
<linearGradient id="BR0" x1="0" y1="0" x2="0" y2="1"><stop offset="0.0004" stop-color="#feffd8"/><stop offset="0.0251" stop-color="#feffd8"/><stop offset="0.0281" stop-color="#feffd6"/><stop offset="0.0385" stop-color="#feffd6"/><stop offset="0.0415" stop-color="#fdfed5"/><stop offset="0.0468" stop-color="#fdfed5"/><stop offset="0.0498" stop-color="#fdfed4"/><stop offset="0.0528" stop-color="#fdfed4"/><stop offset="0.0558" stop-color="#fcfed3"/><stop offset="0.0632" stop-color="#fbfdd0"/><stop offset="0.0730" stop-color="#f8fcca"/><stop offset="0.0812" stop-color="#f3fabf"/><stop offset="0.0842" stop-color="#f0f9b7"/><stop offset="0.0865" stop-color="#edf8b1"/><stop offset="0.0902" stop-color="#ddf2b2"/><stop offset="0.0924" stop-color="#d1edb3"/><stop offset="0.0939" stop-color="#c6e9b4"/><stop offset="0.0947" stop-color="#bbe4b5"/><stop offset="0.0969" stop-color="#92d5b9"/><stop offset="0.0977" stop-color="#80cebb"/><stop offset="0.0984" stop-color="#73c8bd"/><stop offset="0.0999" stop-color="#50bbc2"/><stop offset="0.1007" stop-color="#3eb3c4"/><stop offset="0.1022" stop-color="#269bc1"/><stop offset="0.1029" stop-color="#1e8bbd"/><stop offset="0.1052" stop-color="#2355a4"/><stop offset="0.1067" stop-color="#253997"/><stop offset="0.1074" stop-color="#21308b"/><stop offset="0.1082" stop-color="#192b7c"/><stop offset="0.1089" stop-color="#142670"/><stop offset="0.1104" stop-color="#0d2163"/><stop offset="0.1119" stop-color="#0d2161"/><stop offset="0.1126" stop-color="#12256d"/><stop offset="0.1141" stop-color="#22328f"/><stop offset="0.1149" stop-color="#243f99"/><stop offset="0.1164" stop-color="#225aa6"/><stop offset="0.1186" stop-color="#1e88bc"/><stop offset="0.1194" stop-color="#2195c0"/><stop offset="0.1201" stop-color="#2b9fc2"/><stop offset="0.1216" stop-color="#3cb1c3"/><stop offset="0.1224" stop-color="#44b7c4"/><stop offset="0.1239" stop-color="#5dc0c0"/><stop offset="0.1276" stop-color="#8ed3ba"/><stop offset="0.1284" stop-color="#97d6b9"/><stop offset="0.1291" stop-color="#9ed9b8"/><stop offset="0.1299" stop-color="#a7dcb7"/><stop offset="0.1329" stop-color="#c2e7b4"/><stop offset="0.1344" stop-color="#caeab4"/><stop offset="0.1396" stop-color="#daf0b3"/><stop offset="0.1441" stop-color="#e3f4b2"/><stop offset="0.1501" stop-color="#edf8b1"/><stop offset="0.1576" stop-color="#f1faba"/><stop offset="0.1658" stop-color="#f4fbc0"/><stop offset="0.1755" stop-color="#f6fbc5"/><stop offset="0.1853" stop-color="#f8fcc9"/><stop offset="0.1950" stop-color="#f9fdcb"/><stop offset="0.2055" stop-color="#fafdce"/><stop offset="0.2159" stop-color="#fafdcf"/><stop offset="0.2189" stop-color="#fbfdd0"/><stop offset="0.2264" stop-color="#fbfdd0"/><stop offset="0.2294" stop-color="#fcfed1"/><stop offset="0.2391" stop-color="#fcfed1"/><stop offset="0.2421" stop-color="#fcfed3"/><stop offset="0.2556" stop-color="#fcfed3"/><stop offset="0.2586" stop-color="#fdfed4"/><stop offset="0.2796" stop-color="#fdfed4"/><stop offset="0.2826" stop-color="#fdfed5"/><stop offset="0.3155" stop-color="#fdfed5"/><stop offset="0.3185" stop-color="#feffd6"/><stop offset="0.3799" stop-color="#feffd6"/><stop offset="0.3829" stop-color="#feffd8"/><stop offset="0.5385" stop-color="#feffd8"/><stop offset="0.5415" stop-color="#ffffd9"/><stop offset="0.9996" stop-color="#ffffd9"/></linearGradient>
<linearGradient id="BR1" x1="0" y1="0" x2="0" y2="1"><stop offset="0.0004" stop-color="#fdfed5"/><stop offset="0.0034" stop-color="#fdfed4"/><stop offset="0.0183" stop-color="#fdfed4"/><stop offset="0.0213" stop-color="#fcfed3"/><stop offset="0.0311" stop-color="#fcfed3"/><stop offset="0.0341" stop-color="#fcfed1"/><stop offset="0.0415" stop-color="#fcfed1"/><stop offset="0.0445" stop-color="#fbfdd0"/><stop offset="0.0490" stop-color="#fbfdd0"/><stop offset="0.0520" stop-color="#fafdcf"/><stop offset="0.0565" stop-color="#fafdcf"/><stop offset="0.0595" stop-color="#fafdce"/><stop offset="0.0670" stop-color="#f9fdcc"/><stop offset="0.0700" stop-color="#f9fdcb"/><stop offset="0.0865" stop-color="#f6fbc5"/><stop offset="0.0962" stop-color="#f3fabf"/><stop offset="0.1044" stop-color="#f0f9b7"/><stop offset="0.1104" stop-color="#ecf7b1"/><stop offset="0.1141" stop-color="#e7f6b1"/><stop offset="0.1201" stop-color="#dbf1b2"/><stop offset="0.1246" stop-color="#cfecb3"/><stop offset="0.1269" stop-color="#c8e9b4"/><stop offset="0.1284" stop-color="#c0e6b5"/><stop offset="0.1291" stop-color="#b9e4b5"/><stop offset="0.1299" stop-color="#b4e2b6"/><stop offset="0.1344" stop-color="#8cd2ba"/><stop offset="0.1374" stop-color="#6bc6be"/><stop offset="0.1396" stop-color="#50bbc2"/><stop offset="0.1403" stop-color="#44b7c4"/><stop offset="0.1426" stop-color="#2ea3c2"/><stop offset="0.1441" stop-color="#1f93c0"/><stop offset="0.1448" stop-color="#1e88bc"/><stop offset="0.1493" stop-color="#253795"/><stop offset="0.1508" stop-color="#12256d"/><stop offset="0.1516" stop-color="#081d58"/><stop offset="0.1793" stop-color="#081d58"/><stop offset="0.1808" stop-color="#1c2d81"/><stop offset="0.1815" stop-color="#253795"/><stop offset="0.1860" stop-color="#1e88bc"/><stop offset="0.1868" stop-color="#1f93c0"/><stop offset="0.1890" stop-color="#35aac3"/><stop offset="0.1905" stop-color="#44b7c4"/><stop offset="0.1920" stop-color="#59bfc0"/><stop offset="0.1965" stop-color="#8cd2ba"/><stop offset="0.2010" stop-color="#b4e2b6"/><stop offset="0.2017" stop-color="#b9e4b5"/><stop offset="0.2025" stop-color="#c0e6b5"/><stop offset="0.2040" stop-color="#c8e9b4"/><stop offset="0.2092" stop-color="#d7efb3"/><stop offset="0.2137" stop-color="#e1f3b2"/><stop offset="0.2174" stop-color="#e8f6b1"/><stop offset="0.2219" stop-color="#edf8b2"/><stop offset="0.2287" stop-color="#f1faba"/><stop offset="0.2384" stop-color="#f4fbc1"/><stop offset="0.2481" stop-color="#f7fcc6"/><stop offset="0.2549" stop-color="#f8fcc9"/><stop offset="0.2668" stop-color="#f9fdcc"/><stop offset="0.2743" stop-color="#fafdce"/><stop offset="0.2773" stop-color="#fafdcf"/><stop offset="0.2811" stop-color="#fafdcf"/><stop offset="0.2841" stop-color="#fbfdd0"/><stop offset="0.2893" stop-color="#fbfdd0"/><stop offset="0.2923" stop-color="#fcfed1"/><stop offset="0.2990" stop-color="#fcfed1"/><stop offset="0.3020" stop-color="#fcfed3"/><stop offset="0.3125" stop-color="#fcfed3"/><stop offset="0.3155" stop-color="#fdfed4"/><stop offset="0.3297" stop-color="#fdfed4"/><stop offset="0.3327" stop-color="#fdfed5"/><stop offset="0.3567" stop-color="#fdfed5"/><stop offset="0.3597" stop-color="#feffd6"/><stop offset="0.4008" stop-color="#feffd6"/><stop offset="0.4038" stop-color="#feffd8"/><stop offset="0.5109" stop-color="#feffd8"/><stop offset="0.5138" stop-color="#ffffd9"/><stop offset="0.7960" stop-color="#ffffd9"/><stop offset="0.7990" stop-color="#feffd8"/><stop offset="0.8537" stop-color="#feffd8"/><stop offset="0.8567" stop-color="#feffd6"/><stop offset="0.8746" stop-color="#feffd6"/><stop offset="0.8776" stop-color="#fdfed5"/><stop offset="0.8866" stop-color="#fdfed5"/><stop offset="0.8896" stop-color="#fdfed4"/><stop offset="0.8948" stop-color="#fdfed4"/><stop offset="0.8978" stop-color="#fcfed3"/><stop offset="0.9046" stop-color="#fcfed1"/><stop offset="0.9076" stop-color="#fbfdd0"/><stop offset="0.9158" stop-color="#f9fdcc"/><stop offset="0.9248" stop-color="#f6fbc5"/><stop offset="0.9315" stop-color="#f1fabb"/><stop offset="0.9353" stop-color="#edf8b2"/><stop offset="0.9375" stop-color="#e8f6b1"/><stop offset="0.9420" stop-color="#d6efb3"/><stop offset="0.9442" stop-color="#caeab4"/><stop offset="0.9450" stop-color="#c4e8b4"/><stop offset="0.9495" stop-color="#8ed3ba"/><stop offset="0.9502" stop-color="#83cebb"/><stop offset="0.9525" stop-color="#6fc7bd"/><stop offset="0.9540" stop-color="#63c3bf"/><stop offset="0.9555" stop-color="#5fc1c0"/><stop offset="0.9570" stop-color="#5fc1c0"/><stop offset="0.9592" stop-color="#6bc6be"/><stop offset="0.9607" stop-color="#78cbbc"/><stop offset="0.9637" stop-color="#9cd8b8"/><stop offset="0.9644" stop-color="#a7dcb7"/><stop offset="0.9667" stop-color="#c2e7b4"/><stop offset="0.9682" stop-color="#cdebb4"/><stop offset="0.9734" stop-color="#e5f5b2"/><stop offset="0.9764" stop-color="#edf8b1"/><stop offset="0.9824" stop-color="#f3fabf"/><stop offset="0.9891" stop-color="#f7fcc7"/><stop offset="0.9966" stop-color="#f9fdcc"/><stop offset="0.9996" stop-color="#fafdce"/></linearGradient>
<linearGradient id="BR2" x1="0" y1="0" x2="0" y2="1"><stop offset="0.0004" stop-color="#fafdce"/><stop offset="0.0101" stop-color="#f7fcc6"/><stop offset="0.0168" stop-color="#f3fabd"/><stop offset="0.0221" stop-color="#edf8b1"/><stop offset="0.0251" stop-color="#e5f5b2"/><stop offset="0.0303" stop-color="#cdebb4"/><stop offset="0.0318" stop-color="#c2e7b4"/><stop offset="0.0341" stop-color="#a7dcb7"/><stop offset="0.0348" stop-color="#9cd8b8"/><stop offset="0.0378" stop-color="#78cbbc"/><stop offset="0.0393" stop-color="#6bc6be"/><stop offset="0.0415" stop-color="#5fc1c0"/><stop offset="0.0430" stop-color="#5fc1c0"/><stop offset="0.0445" stop-color="#63c3bf"/><stop offset="0.0468" stop-color="#75c9bd"/><stop offset="0.0483" stop-color="#83cebb"/><stop offset="0.0490" stop-color="#8ed3ba"/><stop offset="0.0535" stop-color="#c4e8b4"/><stop offset="0.0543" stop-color="#caeab4"/><stop offset="0.0573" stop-color="#daf0b3"/><stop offset="0.0610" stop-color="#e8f6b1"/><stop offset="0.0632" stop-color="#edf8b2"/><stop offset="0.0677" stop-color="#f2fabc"/><stop offset="0.0722" stop-color="#f5fbc4"/><stop offset="0.0812" stop-color="#f9fdcb"/><stop offset="0.0857" stop-color="#fafdce"/><stop offset="0.0924" stop-color="#fbfdd0"/><stop offset="0.1022" stop-color="#fcfed3"/><stop offset="0.1089" stop-color="#fdfed4"/><stop offset="0.1231" stop-color="#fdfed5"/><stop offset="0.1261" stop-color="#feffd6"/><stop offset="0.1441" stop-color="#feffd6"/><stop offset="0.1471" stop-color="#feffd8"/><stop offset="0.2017" stop-color="#feffd8"/><stop offset="0.2047" stop-color="#ffffd9"/><stop offset="0.4876" stop-color="#ffffd9"/><stop offset="0.4906" stop-color="#feffd8"/><stop offset="0.5969" stop-color="#feffd8"/><stop offset="0.5999" stop-color="#feffd6"/><stop offset="0.6418" stop-color="#feffd6"/><stop offset="0.6448" stop-color="#fdfed5"/><stop offset="0.6680" stop-color="#fdfed5"/><stop offset="0.6710" stop-color="#fdfed4"/><stop offset="0.6860" stop-color="#fdfed4"/><stop offset="0.6890" stop-color="#fcfed3"/><stop offset="0.6987" stop-color="#fcfed3"/><stop offset="0.7017" stop-color="#fcfed1"/><stop offset="0.7092" stop-color="#fcfed1"/><stop offset="0.7122" stop-color="#fbfdd0"/><stop offset="0.7174" stop-color="#fbfdd0"/><stop offset="0.7204" stop-color="#fafdcf"/><stop offset="0.7242" stop-color="#fafdcf"/><stop offset="0.7272" stop-color="#fafdce"/><stop offset="0.7302" stop-color="#fafdce"/><stop offset="0.7332" stop-color="#f9fdcc"/><stop offset="0.7496" stop-color="#f7fcc7"/><stop offset="0.7541" stop-color="#f6fbc5"/><stop offset="0.7609" stop-color="#f4fbc1"/><stop offset="0.7713" stop-color="#f0f9b8"/><stop offset="0.7781" stop-color="#edf8b1"/><stop offset="0.7856" stop-color="#e1f3b2"/><stop offset="0.7915" stop-color="#d3eeb3"/><stop offset="0.7938" stop-color="#cdebb4"/><stop offset="0.7960" stop-color="#c2e7b4"/><stop offset="0.7968" stop-color="#bde5b5"/><stop offset="0.7975" stop-color="#b7e3b6"/><stop offset="0.7983" stop-color="#b2e1b6"/><stop offset="0.8020" stop-color="#90d4b9"/><stop offset="0.8028" stop-color="#87d0ba"/><stop offset="0.8043" stop-color="#78cbbc"/><stop offset="0.8073" stop-color="#55bec1"/><stop offset="0.8080" stop-color="#4ab9c3"/><stop offset="0.8088" stop-color="#40b5c4"/><stop offset="0.8110" stop-color="#2b9fc2"/><stop offset="0.8118" stop-color="#2397c1"/><stop offset="0.8125" stop-color="#1d8ebf"/><stop offset="0.8140" stop-color="#2075b3"/><stop offset="0.8170" stop-color="#243f99"/><stop offset="0.8177" stop-color="#22328f"/><stop offset="0.8192" stop-color="#0d2163"/><stop offset="0.8200" stop-color="#081d58"/><stop offset="0.8469" stop-color="#081d58"/><stop offset="0.8477" stop-color="#0b1f5e"/><stop offset="0.8492" stop-color="#21308b"/><stop offset="0.8499" stop-color="#243c98"/><stop offset="0.8544" stop-color="#1d8dbe"/><stop offset="0.8552" stop-color="#2296c1"/><stop offset="0.8574" stop-color="#39adc3"/><stop offset="0.8582" stop-color="#3fb4c4"/><stop offset="0.8589" stop-color="#48b9c3"/><stop offset="0.8604" stop-color="#5dc0c0"/><stop offset="0.8641" stop-color="#87d0ba"/><stop offset="0.8656" stop-color="#95d5b9"/><stop offset="0.8664" stop-color="#9ed9b8"/><stop offset="0.8679" stop-color="#abdeb7"/><stop offset="0.8686" stop-color="#b0e0b6"/><stop offset="0.8694" stop-color="#b7e3b6"/><stop offset="0.8701" stop-color="#bbe4b5"/><stop offset="0.8709" stop-color="#c2e7b4"/><stop offset="0.8724" stop-color="#c9eab4"/><stop offset="0.8776" stop-color="#d9f0b3"/><stop offset="0.8851" stop-color="#e7f6b1"/><stop offset="0.8903" stop-color="#edf8b2"/><stop offset="0.8956" stop-color="#f0f9b8"/><stop offset="0.9031" stop-color="#f3fabf"/><stop offset="0.9135" stop-color="#f6fbc5"/><stop offset="0.9263" stop-color="#f8fcca"/><stop offset="0.9405" stop-color="#fafdce"/><stop offset="0.9487" stop-color="#fafdcf"/><stop offset="0.9517" stop-color="#fbfdd0"/><stop offset="0.9570" stop-color="#fbfdd0"/><stop offset="0.9600" stop-color="#fcfed1"/><stop offset="0.9667" stop-color="#fcfed1"/><stop offset="0.9697" stop-color="#fcfed3"/><stop offset="0.9802" stop-color="#fcfed3"/><stop offset="0.9832" stop-color="#fdfed4"/><stop offset="0.9974" stop-color="#fdfed4"/><stop offset="0.9996" stop-color="#fdfed5"/></linearGradient>
<linearGradient id="BR3" x1="0" y1="0" x2="0" y2="1"><stop offset="0.0004" stop-color="#ffffd9"/><stop offset="0.4577" stop-color="#ffffd9"/><stop offset="0.4607" stop-color="#feffd8"/><stop offset="0.6164" stop-color="#feffd8"/><stop offset="0.6194" stop-color="#feffd6"/><stop offset="0.6808" stop-color="#feffd6"/><stop offset="0.6838" stop-color="#fdfed5"/><stop offset="0.7167" stop-color="#fdfed5"/><stop offset="0.7197" stop-color="#fdfed4"/><stop offset="0.7406" stop-color="#fdfed4"/><stop offset="0.7436" stop-color="#fcfed3"/><stop offset="0.7579" stop-color="#fcfed3"/><stop offset="0.7609" stop-color="#fcfed1"/><stop offset="0.7706" stop-color="#fcfed1"/><stop offset="0.7736" stop-color="#fbfdd0"/><stop offset="0.7803" stop-color="#fbfdd0"/><stop offset="0.7833" stop-color="#fafdcf"/><stop offset="0.7885" stop-color="#fafdcf"/><stop offset="0.7915" stop-color="#fafdce"/><stop offset="0.7953" stop-color="#fafdce"/><stop offset="0.7983" stop-color="#f9fdcc"/><stop offset="0.8013" stop-color="#f9fdcc"/><stop offset="0.8043" stop-color="#f9fdcb"/><stop offset="0.8207" stop-color="#f7fcc6"/><stop offset="0.8320" stop-color="#f4fbc0"/><stop offset="0.8409" stop-color="#f0f9b8"/><stop offset="0.8477" stop-color="#edf8b1"/><stop offset="0.8529" stop-color="#e5f5b2"/><stop offset="0.8582" stop-color="#d9f0b3"/><stop offset="0.8626" stop-color="#cbebb4"/><stop offset="0.8641" stop-color="#c4e8b4"/><stop offset="0.8679" stop-color="#a2dbb8"/><stop offset="0.8724" stop-color="#6bc6be"/><stop offset="0.8739" stop-color="#55bec1"/><stop offset="0.8754" stop-color="#3eb3c4"/><stop offset="0.8776" stop-color="#259ac1"/><stop offset="0.8784" stop-color="#1d8ebf"/><stop offset="0.8799" stop-color="#2070b0"/><stop offset="0.8806" stop-color="#2260a9"/><stop offset="0.8829" stop-color="#253795"/><stop offset="0.8836" stop-color="#1d2e83"/><stop offset="0.8844" stop-color="#152772"/><stop offset="0.8851" stop-color="#0e2265"/><stop offset="0.8859" stop-color="#0d2161"/><stop offset="0.8866" stop-color="#0d2161"/><stop offset="0.8874" stop-color="#0e2265"/><stop offset="0.8888" stop-color="#172976"/><stop offset="0.8903" stop-color="#253494"/><stop offset="0.8926" stop-color="#225ea8"/><stop offset="0.8941" stop-color="#1e85ba"/><stop offset="0.8948" stop-color="#2195c0"/><stop offset="0.8963" stop-color="#3aaec3"/><stop offset="0.8971" stop-color="#48b9c3"/><stop offset="0.8986" stop-color="#6bc6be"/><stop offset="0.9008" stop-color="#9cd8b8"/><stop offset="0.9023" stop-color="#b7e3b6"/><stop offset="0.9031" stop-color="#c2e7b4"/><stop offset="0.9038" stop-color="#caeab4"/><stop offset="0.9068" stop-color="#dcf1b2"/><stop offset="0.9106" stop-color="#ecf7b1"/><stop offset="0.9158" stop-color="#f3fabd"/><stop offset="0.9210" stop-color="#f7fcc6"/><stop offset="0.9300" stop-color="#fafdce"/><stop offset="0.9420" stop-color="#fcfed3"/><stop offset="0.9495" stop-color="#fdfed4"/><stop offset="0.9525" stop-color="#fdfed5"/><stop offset="0.9577" stop-color="#fdfed5"/><stop offset="0.9607" stop-color="#feffd6"/><stop offset="0.9719" stop-color="#feffd6"/><stop offset="0.9749" stop-color="#feffd8"/><stop offset="0.9996" stop-color="#feffd8"/></linearGradient>
<linearGradient id="cbar" x1="0" y1="0" x2="0" y2="1"><stop offset="0.0025" stop-color="#081d58"/><stop offset="0.0175" stop-color="#0b1f5e"/><stop offset="0.0275" stop-color="#0d2163"/><stop offset="0.0475" stop-color="#12256d"/><stop offset="0.0675" stop-color="#172976"/><stop offset="0.0775" stop-color="#192b7c"/><stop offset="0.0875" stop-color="#1b2c80"/><stop offset="0.0975" stop-color="#1e2e85"/><stop offset="0.1175" stop-color="#22328f"/><stop offset="0.1275" stop-color="#253494"/><stop offset="0.1725" stop-color="#24439b"/><stop offset="0.2225" stop-color="#2354a3"/><stop offset="0.2625" stop-color="#2262aa"/><stop offset="0.2725" stop-color="#2166ac"/><stop offset="0.2975" stop-color="#2070b0"/><stop offset="0.3075" stop-color="#2075b3"/><stop offset="0.3325" stop-color="#1f7eb7"/><stop offset="0.3425" stop-color="#1e83ba"/><stop offset="0.3675" stop-color="#1d8dbe"/><stop offset="0.3775" stop-color="#1d91c0"/><stop offset="0.5025" stop-color="#42b6c4"/><stop offset="0.5225" stop-color="#4cbac2"/><stop offset="0.5325" stop-color="#52bcc2"/><stop offset="0.5425" stop-color="#55bec1"/><stop offset="0.5525" stop-color="#5bc0c0"/><stop offset="0.5725" stop-color="#65c3bf"/><stop offset="0.5925" stop-color="#6fc7bd"/><stop offset="0.6025" stop-color="#75c9bd"/><stop offset="0.6125" stop-color="#78cbbc"/><stop offset="0.6225" stop-color="#7ecdbb"/><stop offset="0.6275" stop-color="#80cebb"/><stop offset="0.6325" stop-color="#85cfba"/><stop offset="0.6475" stop-color="#8cd2ba"/><stop offset="0.6525" stop-color="#90d4b9"/><stop offset="0.6625" stop-color="#95d5b9"/><stop offset="0.6675" stop-color="#99d7b8"/><stop offset="0.6825" stop-color="#a0dab8"/><stop offset="0.6875" stop-color="#a5dcb7"/><stop offset="0.6975" stop-color="#a9ddb7"/><stop offset="0.7025" stop-color="#aedfb6"/><stop offset="0.7175" stop-color="#b4e2b6"/><stop offset="0.7225" stop-color="#b9e4b5"/><stop offset="0.7325" stop-color="#bde5b5"/><stop offset="0.7375" stop-color="#c2e7b4"/><stop offset="0.7625" stop-color="#cbebb4"/><stop offset="0.8725" stop-color="#edf8b1"/><stop offset="0.9575" stop-color="#f9fdcc"/><stop offset="0.9975" stop-color="#ffffd9"/></linearGradient>
</defs>
<g>
<rect x="38.50" y="1.5" width="40.70" height="334.0" fill="url(#TL0)"/>
<rect x="78.90" y="1.5" width="41.30" height="334.0" fill="url(#TL1)"/>
<rect x="119.90" y="1.5" width="41.20" height="334.0" fill="url(#TL2)"/>
<rect x="160.80" y="1.5" width="40.80" height="334.0" fill="url(#TL3)"/>
<rect x="201.30" y="1.5" width="41.90" height="334.0" fill="url(#TL2)"/>
<rect x="242.90" y="1.5" width="41.00" height="334.0" fill="url(#TL1)"/>
<rect x="283.60" y="1.5" width="40.90" height="334.0" fill="url(#TL0)"/>
<rect x="352.80" y="1.5" width="41.10" height="334.0" fill="url(#TR0)"/>
<rect x="393.60" y="1.5" width="41.50" height="334.0" fill="url(#TR1)"/>
<rect x="434.80" y="1.5" width="41.30" height="334.0" fill="url(#TR2)"/>
<rect x="475.80" y="1.5" width="40.90" height="334.0" fill="url(#TR3)"/>
<rect x="516.40" y="1.5" width="41.60" height="334.0" fill="url(#TR2)"/>
<rect x="557.70" y="1.5" width="40.70" height="334.0" fill="url(#TR1)"/>
<rect x="598.10" y="1.5" width="40.70" height="334.0" fill="url(#TR0)"/>
<rect x="38.50" y="368.5" width="40.70" height="334.0" fill="url(#BL0)"/>
<rect x="78.90" y="368.5" width="41.30" height="334.0" fill="url(#BL1)"/>
<rect x="119.90" y="368.5" width="41.20" height="334.0" fill="url(#BL2)"/>
<rect x="160.80" y="368.5" width="40.80" height="334.0" fill="url(#BL3)"/>
<rect x="201.30" y="368.5" width="41.90" height="334.0" fill="url(#BL2)"/>
<rect x="242.90" y="368.5" width="41.00" height="334.0" fill="url(#BL1)"/>
<rect x="283.60" y="368.5" width="40.90" height="334.0" fill="url(#BL0)"/>
<rect x="352.80" y="368.5" width="41.10" height="334.0" fill="url(#BR0)"/>
<rect x="393.60" y="368.5" width="41.50" height="334.0" fill="url(#BR1)"/>
<rect x="434.80" y="368.5" width="41.30" height="334.0" fill="url(#BR2)"/>
<rect x="475.80" y="368.5" width="40.90" height="334.0" fill="url(#BR3)"/>
<rect x="516.40" y="368.5" width="41.60" height="334.0" fill="url(#BR2)"/>
<rect x="557.70" y="368.5" width="40.70" height="334.0" fill="url(#BR1)"/>
<rect x="598.10" y="368.5" width="40.70" height="334.0" fill="url(#BR0)"/>
</g>
<line x1="38.5" y1="84.80" x2="324.5" y2="84.80" class="dl"/>
<line x1="38.5" y1="168.30" x2="324.5" y2="168.30" class="dl"/>
<line x1="38.5" y1="251.80" x2="324.5" y2="251.80" class="dl"/>
<line x1="352.8" y1="84.80" x2="638.8" y2="84.80" class="dl" stroke-dashoffset="-0.75"/>
<line x1="352.8" y1="168.30" x2="638.8" y2="168.30" class="dl" stroke-dashoffset="-0.75"/>
<line x1="352.8" y1="251.80" x2="638.8" y2="251.80" class="dl" stroke-dashoffset="-0.75"/>
<line x1="38.5" y1="452.05" x2="324.5" y2="452.05" class="dl"/>
<line x1="38.5" y1="535.55" x2="324.5" y2="535.55" class="dl"/>
<line x1="38.5" y1="619.05" x2="324.5" y2="619.05" class="dl"/>
<line x1="352.8" y1="452.05" x2="638.8" y2="452.05" class="dl" stroke-dashoffset="-0.75"/>
<line x1="352.8" y1="535.55" x2="638.8" y2="535.55" class="dl" stroke-dashoffset="-0.75"/>
<line x1="352.8" y1="619.05" x2="638.8" y2="619.05" class="dl" stroke-dashoffset="-0.75"/>
<rect x="44.7" y="157.2" width="8.8" height="165.3" fill="url(#cbar)" stroke="#444" stroke-width="0.8"/>
<path d="M53.5 157.6H55.8M53.5 240.1H55.8M53.5 322.5H55.8" stroke="#333" stroke-width="0.8"/>
<rect x="38.5" y="1.5" width="286.0" height="334.0" class="sp"/>
<line x1="38.50" y1="335.5" x2="38.50" y2="338.3" class="tk"/>
<line x1="110.00" y1="335.5" x2="110.00" y2="338.3" class="tk"/>
<line x1="181.50" y1="335.5" x2="181.50" y2="338.3" class="tk"/>
<line x1="253.00" y1="335.5" x2="253.00" y2="338.3" class="tk"/>
<line x1="324.50" y1="335.5" x2="324.50" y2="338.3" class="tk"/>
<rect x="352.8" y="1.5" width="285.99999999999994" height="334.0" class="sp"/>
<line x1="352.80" y1="335.5" x2="352.80" y2="338.3" class="tk"/>
<line x1="424.30" y1="335.5" x2="424.30" y2="338.3" class="tk"/>
<line x1="495.80" y1="335.5" x2="495.80" y2="338.3" class="tk"/>
<line x1="567.30" y1="335.5" x2="567.30" y2="338.3" class="tk"/>
<line x1="638.80" y1="335.5" x2="638.80" y2="338.3" class="tk"/>
<line x1="638.8" y1="84.20" x2="645.1999999999999" y2="84.20" class="tk"/>
<line x1="638.8" y1="167.70" x2="645.1999999999999" y2="167.70" class="tk"/>
<line x1="638.8" y1="251.20" x2="645.1999999999999" y2="251.20" class="tk"/>
<rect x="38.5" y="368.5" width="286.0" height="334.0" class="sp"/>
<line x1="38.50" y1="702.5" x2="38.50" y2="705.3" class="tk"/>
<line x1="110.00" y1="702.5" x2="110.00" y2="705.3" class="tk"/>
<line x1="181.50" y1="702.5" x2="181.50" y2="705.3" class="tk"/>
<line x1="253.00" y1="702.5" x2="253.00" y2="705.3" class="tk"/>
<line x1="324.50" y1="702.5" x2="324.50" y2="705.3" class="tk"/>
<rect x="352.8" y="368.5" width="285.99999999999994" height="334.0" class="sp"/>
<line x1="352.80" y1="702.5" x2="352.80" y2="705.3" class="tk"/>
<line x1="424.30" y1="702.5" x2="424.30" y2="705.3" class="tk"/>
<line x1="495.80" y1="702.5" x2="495.80" y2="705.3" class="tk"/>
<line x1="567.30" y1="702.5" x2="567.30" y2="705.3" class="tk"/>
<line x1="638.80" y1="702.5" x2="638.80" y2="705.3" class="tk"/>
<line x1="638.8" y1="451.45" x2="645.1999999999999" y2="451.45" class="tk"/>
<line x1="638.8" y1="534.95" x2="645.1999999999999" y2="534.95" class="tk"/>
<line x1="638.8" y1="618.45" x2="645.1999999999999" y2="618.45" class="tk"/>
<g class="tx">
<text transform="matrix(0.21846 0 0 0.22714 152.462 65.473)" font-size="100" font-style="italic" style="stroke-width:0.6px">U</text>
<text transform="matrix(0.22526 0 0 0.22958 195.999 65.470)" font-size="100" style="stroke-width:0.6px">0</text>
<text transform="matrix(0.21231 0 0 0.22714 456.708 65.273)" font-size="100" font-style="italic" style="stroke-width:0.6px">U</text>
<text transform="matrix(0.22980 0 0 0.23000 500.276 65.270)" font-size="100" style="stroke-width:0.6px">1.5</text>
<text transform="matrix(0.21231 0 0 0.22429 142.308 432.276)" font-size="100" font-style="italic" style="stroke-width:0.6px">U</text>
<text transform="matrix(0.23462 0 0 0.22535 185.227 432.275)" font-size="100" style="stroke-width:0.6px">2.5</text>
<text transform="matrix(0.21538 0 0 0.22714 467.185 432.273)" font-size="100" font-style="italic" style="stroke-width:0.6px">U</text>
<text transform="matrix(0.21600 0 0 0.22464 510.960 432.100)" font-size="100" style="stroke-width:0.6px">4</text>
<text transform="matrix(0.25299 0 0 0.27101 96.026 746.400)" font-size="100" style="stroke-width:0.6px">M</text>
<text transform="matrix(0.26947 0 0 0.27101 118.322 746.400)" font-size="100" style="stroke-width:0.6px">o</text>
<text transform="matrix(0.30429 0 0 0.27101 134.122 746.400)" font-size="100" style="stroke-width:0.6px">m</text>
<text transform="matrix(0.28602 0 0 0.27101 159.213 746.400)" font-size="100" style="stroke-width:0.6px">e</text>
<text transform="matrix(0.27529 0 0 0.27101 176.111 746.400)" font-size="100" style="stroke-width:0.6px">n</text>
<text transform="matrix(0.33333 0 0 0.27101 191.800 746.400)" font-size="100" style="stroke-width:0.6px">t</text>
<text transform="matrix(0.26118 0 0 0.27101 202.902 746.400)" font-size="100" style="stroke-width:0.6px">u</text>
<text transform="matrix(0.28429 0 0 0.27101 219.152 746.400)" font-size="100" style="stroke-width:0.6px">m</text>
<text transform="matrix(0.27356 0 0 0.27101 252.622 746.400)" font-size="100" style="stroke-width:0.6px">k</text>
<text transform="matrix(0.25299 0 0 0.27101 410.226 746.400)" font-size="100" style="stroke-width:0.6px">M</text>
<text transform="matrix(0.26947 0 0 0.27101 432.522 746.400)" font-size="100" style="stroke-width:0.6px">o</text>
<text transform="matrix(0.30429 0 0 0.27101 448.322 746.400)" font-size="100" style="stroke-width:0.6px">m</text>
<text transform="matrix(0.28602 0 0 0.27101 473.413 746.400)" font-size="100" style="stroke-width:0.6px">e</text>
<text transform="matrix(0.27529 0 0 0.27101 490.311 746.400)" font-size="100" style="stroke-width:0.6px">n</text>
<text transform="matrix(0.33333 0 0 0.27101 506.000 746.400)" font-size="100" style="stroke-width:0.6px">t</text>
<text transform="matrix(0.26118 0 0 0.27101 517.102 746.400)" font-size="100" style="stroke-width:0.6px">u</text>
<text transform="matrix(0.28429 0 0 0.27101 533.352 746.400)" font-size="100" style="stroke-width:0.6px">m</text>
<text transform="matrix(0.27356 0 0 0.27101 566.822 746.400)" font-size="100" style="stroke-width:0.6px">k</text>
<g transform="rotate(-90)"><text transform="matrix(0.21284 0 0 0.26087 -228.203 18.800)" font-size="100" style="stroke-width:0.6px">E</text></g>
<g transform="rotate(-90)"><text transform="matrix(0.27294 0 0 0.26087 -212.174 18.800)" font-size="100" style="stroke-width:0.6px">n</text></g>
<g transform="rotate(-90)"><text transform="matrix(0.26022 0 0 0.26087 -196.371 18.800)" font-size="100" style="stroke-width:0.6px">e</text></g>
<g transform="rotate(-90)"><text transform="matrix(0.34000 0 0 0.26087 -180.810 18.800)" font-size="100" style="stroke-width:0.6px">r</text></g>
<g transform="rotate(-90)"><text transform="matrix(0.26000 0 0 0.26087 -168.540 18.800)" font-size="100" style="stroke-width:0.6px">g</text></g>
<g transform="rotate(-90)"><text transform="matrix(0.27347 0 0 0.26087 -152.237 18.800)" font-size="100" style="stroke-width:0.6px">y</text></g>
<g transform="rotate(-90)"><text transform="matrix(0.26338 0 0 0.26727 -128.922 19.133)" font-size="100" font-style="italic" style="stroke-width:0.6px">ω</text></g>
<g transform="rotate(-90)"><text transform="matrix(0.21284 0 0 0.26087 -595.403 18.800)" font-size="100" style="stroke-width:0.6px">E</text></g>
<g transform="rotate(-90)"><text transform="matrix(0.27294 0 0 0.26087 -579.374 18.800)" font-size="100" style="stroke-width:0.6px">n</text></g>
<g transform="rotate(-90)"><text transform="matrix(0.26022 0 0 0.26087 -563.571 18.800)" font-size="100" style="stroke-width:0.6px">e</text></g>
<g transform="rotate(-90)"><text transform="matrix(0.34000 0 0 0.26087 -548.010 18.800)" font-size="100" style="stroke-width:0.6px">r</text></g>
<g transform="rotate(-90)"><text transform="matrix(0.26000 0 0 0.26087 -535.740 18.800)" font-size="100" style="stroke-width:0.6px">g</text></g>
<g transform="rotate(-90)"><text transform="matrix(0.27347 0 0 0.26087 -519.437 18.800)" font-size="100" style="stroke-width:0.6px">y</text></g>
<g transform="rotate(-90)"><text transform="matrix(0.26338 0 0 0.26727 -496.122 19.133)" font-size="100" font-style="italic" style="stroke-width:0.6px">ω</text></g>
<text transform="matrix(0.13125 0 0 0.15926 40.459 719.691)" font-size="100" font-style="italic">π</text>
<text transform="matrix(0.16947 0 0 0.16620 176.222 719.484)" font-size="100">0</text>
<text transform="matrix(0.13594 0 0 0.15926 319.638 719.691)" font-size="100" font-style="italic">π</text>
<text transform="matrix(0.13125 0 0 0.15926 354.759 719.691)" font-size="100" font-style="italic">π</text>
<text transform="matrix(0.16947 0 0 0.16620 490.522 719.484)" font-size="100">0</text>
<text transform="matrix(0.13594 0 0 0.15926 633.938 719.691)" font-size="100" font-style="italic">π</text>
<text transform="matrix(0.14182 0 0 0.13472 647.134 88.240)" font-size="100" font-style="italic">μ</text>
<text transform="matrix(0.14182 0 0 0.13472 647.134 172.140)" font-size="100" font-style="italic">μ</text>
<text transform="matrix(0.14182 0 0 0.13472 647.134 255.490)" font-size="100" font-style="italic">μ</text>
<text transform="matrix(0.14182 0 0 0.13472 647.134 455.440)" font-size="100" font-style="italic">μ</text>
<text transform="matrix(0.14182 0 0 0.13472 647.134 539.140)" font-size="100" font-style="italic">μ</text>
<text transform="matrix(0.14182 0 0 0.13472 647.134 622.640)" font-size="100" font-style="italic">μ</text>
<text transform="matrix(0.13600 0 0 0.13478 671.610 87.950)" font-size="100">4</text>
<text transform="matrix(0.15472 0 0 0.12824 679.154 87.822)" font-size="100" font-style="italic">t</text>
<text transform="matrix(0.13600 0 0 0.13478 671.610 255.200)" font-size="100">4</text>
<text transform="matrix(0.15472 0 0 0.12824 679.154 255.072)" font-size="100" font-style="italic">t</text>
<text transform="matrix(0.13600 0 0 0.13478 671.610 455.150)" font-size="100">4</text>
<text transform="matrix(0.15472 0 0 0.12824 679.154 455.022)" font-size="100" font-style="italic">t</text>
<text transform="matrix(0.13600 0 0 0.13478 671.610 622.350)" font-size="100">4</text>
<text transform="matrix(0.15472 0 0 0.12824 679.154 622.222)" font-size="100" font-style="italic">t</text>
<text transform="matrix(0.08372 0 0 0.10870 57.922 161.750)" font-size="100">1</text>
<text transform="matrix(0.11579 0 0 0.10000 62.808 161.750)" font-size="100">.</text>
<text transform="matrix(0.09895 0 0 0.10563 67.054 161.644)" font-size="100">0</text>
<text transform="matrix(0.09263 0 0 0.10000 57.579 243.950)" font-size="100">0</text>
<text transform="matrix(0.12632 0 0 0.10000 63.113 244.050)" font-size="100">.</text>
<text transform="matrix(0.09684 0 0 0.10143 66.863 243.949)" font-size="100">5</text>
<text transform="matrix(0.08842 0 0 0.09859 57.596 326.651)" font-size="100">0</text>
<text transform="matrix(0.12632 0 0 0.10000 62.913 326.750)" font-size="100">.</text>
<text transform="matrix(0.08632 0 0 0.09859 67.505 326.651)" font-size="100">0</text>
<g stroke="none"><rect x="174.9" y="55.65" width="14.20" height="1.6"/><rect x="174.9" y="60.00" width="14.20" height="1.75"/><rect x="478.9" y="55.55" width="14.40" height="1.6"/><rect x="478.9" y="59.90" width="14.40" height="1.75"/><rect x="164.5" y="422.75" width="14.40" height="1.6"/><rect x="164.5" y="427.10" width="14.40" height="1.75"/><rect x="489.8" y="422.55" width="13.40" height="1.6"/><rect x="489.8" y="426.90" width="13.40" height="1.75"/><rect x="28.2" y="714.55" width="10.30" height="1.3"/><rect x="342.5" y="714.55" width="10.30" height="1.3"/><rect x="659.02" y="83.28" width="8.15" height="1.25"/><rect x="662.48" y="79.70" width="1.25" height="8.4"/><rect x="659.0" y="250.72" width="8.20" height="1.25"/><rect x="659.02" y="450.47" width="8.15" height="1.25"/><rect x="662.48" y="446.90" width="1.25" height="8.4"/><rect x="659.0" y="617.88" width="8.20" height="1.25"/></g>
</g>
</svg>
</body></html>
